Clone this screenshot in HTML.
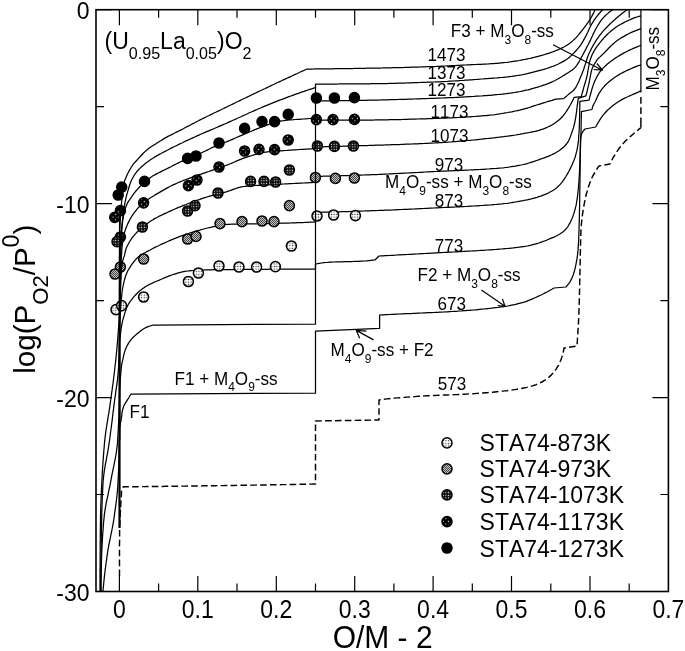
<!DOCTYPE html>
<html lang="en"><head><meta charset="utf-8"><title>log(PO2/P0) vs O/M - 2</title>
<style>html,body{margin:0;padding:0;background:#fff}svg{display:block}text{font-family:"Liberation Sans",Arial,Helvetica,sans-serif;fill:#000;font-kerning:none}.c{fill:none;stroke:#000;stroke-width:1.25;stroke-linejoin:round;stroke-linecap:butt}.ax{fill:none;stroke:#000;stroke-width:1.6}.tk{stroke:#000;stroke-width:1.2;fill:none}.s{font-size:17.1px}.t{font-size:23px}.m{font-size:23px}.b{font-size:30px}</style></head><body>
<svg width="685" height="651" viewBox="0 0 685 651">
<defs>
<pattern id="p873" width="2.6" height="2.6" patternUnits="userSpaceOnUse"><rect width="2.6" height="2.6" fill="#fff"/><circle cx="1.3" cy="1.3" r="0.7" fill="#333"/></pattern>
<pattern id="p973" width="2" height="2" patternUnits="userSpaceOnUse"><rect width="2" height="2" fill="#c4c4c4"/><rect width="1" height="1" fill="#454545"/><rect x="1" y="1" width="1" height="1" fill="#454545"/></pattern>
<pattern id="p1073" width="2.6" height="2.6" patternUnits="userSpaceOnUse"><rect width="2.6" height="2.6" fill="#0c0c0c"/><circle cx="1.3" cy="1.3" r="0.66" fill="#eee"/></pattern>
<pattern id="p1173" width="5.2" height="5.2" patternUnits="userSpaceOnUse"><rect width="5.2" height="5.2" fill="#000"/><circle cx="1.3" cy="1.3" r="0.62" fill="#eee"/><circle cx="3.9" cy="3.9" r="0.62" fill="#eee"/></pattern>
<clipPath id="clip"><rect x="96.0" y="9.7" width="572.4" height="581.8"/></clipPath>
</defs>
<rect width="685" height="651" fill="#fff"/>
<g clip-path="url(#clip)">
<path class="c" style="stroke-width:1.45" stroke-dasharray="6.6 3.25" d="M119.5 576.0 L119.5 574.0 L119.5 571.9 L119.5 569.9 L119.5 567.8 L119.5 565.8 L119.5 563.8 L119.5 561.7 L119.5 559.7 L119.5 557.7 L119.5 555.6 L119.5 553.6 L119.5 551.5 L119.5 549.5 L119.5 547.5 L119.5 545.4 L119.5 543.4 L119.6 541.3 L119.6 539.3 L119.6 537.3 L119.6 535.2 L119.6 533.2 L119.6 531.2 L119.6 529.1 L119.6 527.1 L119.7 525.1 L119.8 523.0 L119.9 521.0 L120.0 518.9 L120.1 516.9 L120.2 514.9 L120.3 512.8 L120.5 510.8 L120.6 508.8 L120.7 506.7 L120.8 504.7 L120.9 502.7 L121.0 500.6 L121.2 498.6 L121.3 496.6 L121.4 494.5 L121.4 492.4 L121.6 490.4 L122.1 488.6 L123.3 486.8 L125.3 486.8 L127.3 486.8 L129.3 486.7 L131.3 486.7 L133.3 486.7 L135.3 486.7 L137.3 486.7 L139.3 486.6 L141.3 486.6 L143.3 486.6 L145.3 486.6 L147.3 486.5 L149.3 486.5 L151.3 486.5 L153.3 486.5 L155.3 486.4 L157.3 486.4 L159.3 486.4 L161.3 486.4 L163.3 486.4 L165.3 486.3 L167.3 486.3 L169.4 486.3 L171.4 486.3 L173.4 486.2 L175.4 486.2 L177.4 486.2 L179.4 486.2 L181.4 486.1 L183.4 486.1 L185.4 486.1 L187.4 486.0 L189.4 486.0 L191.4 486.0 L193.4 486.0 L195.4 485.9 L197.4 485.9 L199.4 485.9 L201.4 485.9 L203.4 485.8 L205.4 485.8 L207.4 485.8 L209.4 485.8 L211.4 485.7 L213.4 485.7 L215.4 485.7 L217.4 485.6 L219.4 485.6 L221.4 485.6 L223.4 485.6 L225.4 485.5 L227.4 485.5 L229.4 485.5 L231.4 485.4 L233.4 485.4 L235.4 485.4 L237.4 485.3 L239.4 485.3 L241.4 485.3 L243.4 485.3 L245.4 485.2 L247.4 485.2 L249.4 485.2 L251.4 485.1 L253.4 485.1 L255.4 485.1 L257.4 485.0 L259.4 485.0 L261.4 485.0 L263.4 484.9 L265.5 484.9 L267.5 484.9 L269.5 484.8 L271.5 484.8 L273.5 484.8 L275.5 484.7 L277.5 484.7 L279.5 484.7 L281.5 484.6 L283.5 484.6 L285.5 484.6 L287.5 484.5 L289.5 484.5 L291.5 484.4 L293.5 484.4 L295.5 484.4 L297.5 484.3 L299.5 484.3 L301.5 484.3 L303.5 484.2 L305.5 484.2 L307.5 484.2 L309.5 484.1 L311.5 484.1 L313.5 484.0 L315.5 484.0 L315.5 421.0 L379.0 420.0 L379.0 400.0 L381.0 399.7 L383.0 399.4 L384.9 399.1 L386.9 398.9 L388.9 398.7 L390.9 398.5 L392.9 398.3 L394.9 398.1 L396.9 397.9 L398.9 397.8 L400.9 397.6 L402.9 397.4 L404.9 397.3 L406.9 397.1 L408.9 397.0 L410.9 396.8 L412.9 396.7 L414.9 396.6 L416.9 396.4 L418.9 396.3 L420.9 396.2 L422.9 396.1 L424.9 395.9 L426.9 395.8 L428.9 395.7 L430.9 395.6 L432.9 395.5 L434.9 395.5 L436.9 395.4 L438.9 395.3 L440.9 395.2 L442.9 395.1 L444.9 395.0 L446.9 395.0 L448.9 394.9 L450.9 394.8 L452.9 394.7 L454.9 394.6 L456.9 394.6 L458.9 394.5 L460.9 394.4 L462.9 394.3 L464.9 394.2 L466.9 394.1 L468.9 393.9 L470.9 393.8 L472.9 393.7 L474.9 393.6 L476.9 393.4 L478.9 393.3 L480.9 393.1 L482.9 393.0 L484.9 392.8 L486.9 392.7 L488.9 392.5 L490.9 392.3 L492.9 392.2 L494.8 392.0 L496.8 391.8 L498.8 391.6 L500.8 391.4 L502.8 391.1 L504.8 390.9 L506.8 390.7 L508.8 390.4 L510.8 390.2 L512.8 389.9 L514.8 389.6 L516.8 389.3 L518.8 388.9 L520.8 388.6 L522.7 388.2 L524.7 387.8 L526.7 387.4 L528.6 386.9 L530.5 386.4 L532.4 385.9 L534.3 385.3 L536.2 384.6 L538.1 383.8 L540.0 382.9 L541.8 382.0 L543.6 381.0 L545.3 379.9 L546.9 378.8 L548.4 377.7 L549.8 376.4 L551.2 375.1 L552.6 373.6 L553.9 372.0 L555.2 370.3 L556.4 368.6 L557.5 366.8 L558.5 365.1 L559.4 363.3 L560.2 361.5 L560.9 359.7 L561.6 357.9 L562.2 356.0 L562.8 354.0 L563.3 352.1 L563.7 350.0 L564.0 348.0 L577.0 346.0 L577.1 344.0 L577.3 342.0 L577.4 340.0 L577.5 338.0 L577.7 335.9 L577.8 333.9 L577.9 331.9 L578.0 329.9 L578.2 327.9 L578.3 325.9 L578.4 323.9 L578.5 321.9 L578.6 319.9 L578.7 317.8 L578.8 315.8 L578.9 313.8 L578.9 311.8 L579.0 309.8 L579.1 307.8 L579.1 305.8 L579.2 303.7 L579.3 301.7 L579.3 299.7 L579.4 297.7 L579.4 295.7 L579.5 293.7 L579.5 291.7 L579.6 289.6 L579.6 287.6 L579.6 285.6 L579.7 283.6 L579.7 281.6 L579.8 279.6 L579.8 277.6 L579.9 275.5 L579.9 273.5 L580.0 271.5 L580.0 269.5 L580.1 267.5 L580.1 265.5 L580.1 263.5 L580.2 261.4 L580.2 259.4 L580.3 257.4 L580.3 255.4 L580.3 253.4 L580.4 251.4 L580.4 249.3 L580.5 247.3 L580.5 245.3 L580.6 243.3 L580.6 241.3 L580.7 239.3 L580.7 237.3 L580.8 235.2 L580.9 233.2 L580.9 231.2 L581.0 229.2 L581.2 227.2 L581.3 225.2 L581.5 223.2 L581.7 221.2 L581.9 219.2 L582.2 217.2 L582.4 215.2 L582.7 213.2 L583.0 211.2 L583.4 209.2 L583.7 207.2 L584.0 205.2 L584.4 203.2 L584.8 201.2 L585.1 199.3 L585.6 197.3 L586.0 195.3 L586.5 193.4 L587.1 191.4 L587.6 189.5 L588.2 187.5 L588.9 185.6 L589.6 183.7 L590.3 181.8 L591.0 180.0 L591.8 178.2 L592.6 176.4 L593.6 174.6 L594.6 172.8 L595.6 171.1 L596.7 169.4 L597.8 167.7 L599.0 166.0 L610.0 164.0 L610.9 162.1 L611.8 160.3 L612.7 158.5 L613.7 156.7 L614.8 155.0 L615.8 153.3 L616.9 151.6 L618.1 149.9 L619.2 148.3 L620.4 146.7 L621.6 145.2 L622.9 143.7 L624.3 142.3 L625.7 140.8 L627.1 139.4 L628.6 138.1 L630.1 136.7 L631.7 135.4 L633.2 134.0 L634.8 132.7 L636.3 131.4 L637.9 130.1 L639.4 128.8 L641.0 127.6"/>
<path class="c" d="M119.5 528.0 L119.5 526.0 L119.5 523.9 L119.5 521.9 L119.5 519.9 L119.5 517.9 L119.5 515.9 L119.5 513.8 L119.5 511.8 L119.5 509.8 L119.5 507.8 L119.5 505.8 L119.5 503.7 L119.5 501.7 L119.5 499.7 L119.5 497.7 L119.5 495.7 L119.5 493.7 L119.5 491.7 L119.5 489.7 L119.5 487.7 L119.5 485.7 L119.5 483.6 L119.5 481.6 L119.5 479.6 L119.5 477.6 L119.5 475.6 L119.5 473.6 L119.5 471.6 L119.5 469.6 L119.5 467.6 L119.5 465.6 L119.5 463.6 L119.5 461.6 L119.5 459.6 L119.5 457.6 L119.5 455.6 L119.5 453.6 L119.5 451.6 L119.5 449.7 L119.5 447.7 L119.5 445.7 L119.5 443.7 L119.5 441.7 L119.5 439.7 L119.5 437.7 L119.5 435.7 L119.5 433.7 L119.5 431.7 L119.5 429.7 L119.6 427.7 L119.9 425.8 L120.3 423.8 L120.7 421.8 L121.1 419.8 L121.4 417.9 L121.7 415.9 L121.9 413.9 L122.1 411.9 L122.6 409.9 L123.1 408.0 L123.8 406.1 L124.6 404.3 L125.7 402.6 L126.8 400.9 L127.9 399.2 L128.9 397.5 L129.9 395.7 L130.9 394.0 L315.5 393.2 L315.5 331.2 L379.6 328.4 L379.6 315.0 L381.6 314.9 L383.6 314.8 L385.6 314.7 L387.6 314.6 L389.6 314.5 L391.6 314.4 L393.6 314.3 L395.6 314.2 L397.6 314.1 L399.6 314.0 L401.6 313.9 L403.6 313.8 L405.6 313.7 L407.6 313.6 L409.6 313.5 L411.6 313.5 L413.6 313.4 L415.6 313.3 L417.6 313.2 L419.6 313.1 L421.7 313.0 L423.7 312.9 L425.7 312.8 L427.7 312.7 L429.7 312.7 L431.7 312.6 L433.7 312.5 L435.7 312.4 L437.7 312.3 L439.7 312.2 L441.7 312.1 L443.7 312.0 L445.7 311.9 L447.7 311.8 L449.7 311.6 L451.7 311.5 L453.7 311.4 L455.7 311.3 L457.7 311.2 L459.7 311.0 L461.7 310.9 L463.7 310.7 L465.7 310.6 L467.7 310.4 L469.7 310.3 L471.7 310.1 L473.7 310.0 L475.7 309.8 L477.7 309.6 L479.7 309.4 L481.7 309.2 L483.7 309.0 L485.7 308.8 L487.7 308.6 L489.7 308.4 L491.6 308.2 L493.6 307.9 L495.6 307.7 L497.6 307.5 L499.6 307.2 L501.6 306.9 L503.6 306.6 L505.5 306.3 L507.5 306.0 L509.5 305.6 L511.5 305.2 L513.4 304.8 L515.4 304.4 L517.4 303.9 L519.3 303.4 L521.2 302.9 L523.1 302.4 L525.0 301.8 L526.9 301.1 L528.8 300.4 L530.7 299.6 L532.5 298.9 L534.4 298.0 L536.2 297.2 L538.0 296.4 L539.9 295.5 L541.7 294.7 L543.5 293.8 L545.2 292.9 L547.0 292.0 L548.8 291.0 L550.5 290.0 L552.3 289.0 L554.0 288.0 L566.0 287.0 L567.3 285.4 L568.6 283.8 L569.8 282.1 L570.8 280.4 L571.7 278.6 L572.5 276.8 L573.2 274.9 L573.8 273.0 L574.4 271.1 L574.9 269.1 L575.4 267.1 L575.8 265.1 L576.2 263.1 L576.5 261.1 L576.9 259.1 L577.2 257.1 L577.5 255.1 L577.7 253.1 L577.9 251.1 L578.1 249.1 L578.2 247.1 L578.3 245.1 L578.5 243.1 L578.6 241.0 L578.7 239.0 L578.8 237.0 L578.8 235.0 L578.9 232.9 L579.0 230.9 L579.0 228.9 L579.1 226.9 L579.1 224.9 L579.2 222.8 L579.3 220.8 L579.3 218.8 L579.4 216.8 L579.4 214.8 L579.4 212.7 L579.5 210.7 L579.5 208.7 L579.6 206.7 L579.6 204.7 L579.6 202.6 L579.7 200.6 L579.7 198.6 L579.7 196.6 L579.8 194.5 L579.8 192.5 L579.8 190.5 L579.9 188.5 L579.9 186.5 L579.9 184.4 L580.0 182.4 L580.0 180.4 L580.0 178.4 L580.0 176.4 L580.1 174.3 L580.1 172.3 L580.1 170.3 L580.1 168.3 L580.1 166.2 L580.2 164.2 L580.2 162.2 L580.2 160.2 L580.2 158.1 L580.2 156.1 L580.2 154.1 L580.3 152.1 L580.3 150.1 L580.3 148.0 L580.4 146.0 L580.4 144.0 L580.4 142.0 L580.5 140.0 L580.7 137.9 L581.0 136.0 L581.6 134.1 L582.5 132.2 L583.7 130.5 L585.0 129.0 L595.7 127.0 L596.7 125.2 L597.7 123.4 L598.7 121.7 L599.8 119.9 L600.9 118.2 L602.1 116.5 L603.3 114.9 L604.7 113.3 L606.1 111.8 L607.5 110.3 L609.0 108.9 L610.6 107.6 L612.1 106.3 L613.7 105.0 L615.4 103.8 L617.1 102.6 L618.8 101.5 L620.6 100.4 L622.3 99.4 L624.1 98.4 L626.0 97.5 L627.8 96.7 L629.7 95.8 L631.6 95.0 L633.5 94.2 L635.4 93.4 L637.2 92.6 L639.1 91.7 L641.0 90.9"/>
<path class="c" d="M119.5 528.0 L119.5 526.0 L119.5 524.0 L119.5 522.0 L119.5 520.0 L119.5 518.0 L119.5 516.0 L119.5 514.0 L119.5 512.0 L119.5 510.0 L119.5 508.0 L119.5 506.0 L119.5 504.0 L119.5 502.0 L119.5 500.0 L119.5 498.0 L119.5 496.0 L119.5 494.0 L119.5 492.0 L119.5 490.0 L119.5 488.0 L119.5 485.9 L119.5 483.9 L119.5 481.9 L119.5 479.9 L119.5 477.9 L119.5 475.9 L119.5 473.9 L119.5 471.9 L119.5 469.9 L119.5 467.9 L119.5 465.9 L119.5 463.9 L119.5 461.9 L119.5 459.9 L119.5 457.9 L119.5 455.9 L119.5 453.9 L119.5 451.9 L119.5 449.9 L119.5 447.9 L119.5 445.9 L119.5 443.9 L119.5 441.9 L119.5 439.9 L119.5 437.9 L119.5 435.9 L119.5 433.9 L119.5 431.9 L119.5 429.9 L119.5 427.9 L119.5 425.9 L119.5 423.9 L119.5 421.9 L119.5 419.9 L119.5 417.9 L119.5 415.9 L119.5 413.9 L119.5 411.9 L119.5 409.9 L119.5 407.9 L119.5 406.0 L119.5 404.0 L119.5 402.0 L119.5 400.0 L119.5 398.0 L119.5 396.0 L119.6 394.0 L119.6 391.9 L119.7 389.9 L119.8 387.9 L119.9 385.9 L120.0 383.9 L120.1 381.9 L120.3 379.9 L120.4 377.9 L120.6 375.9 L120.7 373.9 L120.9 371.9 L121.1 370.0 L121.3 368.0 L121.5 366.0 L121.8 364.0 L122.2 362.1 L122.7 360.1 L123.1 358.2 L123.5 356.2 L124.0 354.2 L124.5 352.3 L125.1 350.4 L125.8 348.5 L126.6 346.7 L127.6 344.9 L128.6 343.1 L129.6 341.5 L130.8 339.9 L132.1 338.4 L133.5 337.0 L135.0 335.6 L136.5 334.2 L138.1 332.9 L139.6 331.7 L141.2 330.4 L142.9 329.2 L144.6 328.2 L146.3 327.4 L148.2 326.6 L150.0 326.0 L152.0 325.4 L154.0 325.0 L315.5 324.0 L315.5 264.0 L317.5 263.7 L319.6 263.3 L321.6 263.0 L323.6 262.7 L325.7 262.5 L327.7 262.4 L329.8 262.2 L331.8 262.1 L333.9 262.0 L335.9 261.9 L338.0 261.9 L340.1 261.8 L342.1 261.8 L344.2 261.7 L346.2 261.6 L348.3 261.6 L350.4 261.5 L352.4 261.5 L354.5 261.4 L356.5 261.3 L358.6 261.3 L360.6 261.2 L362.7 261.1 L364.8 261.0 L366.8 260.8 L368.9 260.6 L370.9 260.4 L373.0 260.2 L375.0 260.0 L379.0 256.0 L381.0 255.9 L383.0 255.8 L385.0 255.7 L387.0 255.6 L389.0 255.5 L391.0 255.4 L393.0 255.3 L395.0 255.2 L397.0 255.0 L399.0 254.9 L401.0 254.8 L403.0 254.7 L405.0 254.6 L407.1 254.5 L409.1 254.4 L411.1 254.3 L413.1 254.2 L415.1 254.1 L417.1 254.0 L419.1 253.8 L421.1 253.7 L423.1 253.6 L425.1 253.5 L427.1 253.4 L429.1 253.3 L431.1 253.2 L433.1 253.1 L435.1 252.9 L437.1 252.8 L439.1 252.7 L441.1 252.6 L443.1 252.5 L445.1 252.4 L447.1 252.3 L449.1 252.2 L451.1 252.1 L453.1 252.0 L455.1 251.9 L457.1 251.8 L459.2 251.7 L461.2 251.6 L463.2 251.4 L465.2 251.3 L467.2 251.2 L469.2 251.1 L471.2 251.0 L473.2 250.9 L475.2 250.8 L477.2 250.7 L479.2 250.5 L481.2 250.4 L483.2 250.3 L485.2 250.2 L487.2 250.0 L489.2 249.9 L491.2 249.8 L493.2 249.6 L495.2 249.5 L497.2 249.3 L499.2 249.1 L501.2 249.0 L503.2 248.8 L505.2 248.6 L507.2 248.5 L509.2 248.3 L511.2 248.1 L513.2 247.9 L515.2 247.6 L517.2 247.4 L519.2 247.2 L521.2 246.9 L523.2 246.6 L525.1 246.3 L527.1 246.0 L529.1 245.6 L531.0 245.2 L533.0 244.7 L534.9 244.2 L536.9 243.6 L538.8 243.0 L540.7 242.3 L542.6 241.7 L544.5 241.0 L546.4 240.3 L548.2 239.5 L550.1 238.7 L552.0 237.9 L553.9 237.1 L555.8 236.2 L557.7 235.2 L559.5 234.2 L561.2 233.1 L562.8 232.0 L564.2 230.8 L565.5 229.5 L566.7 228.1 L567.9 226.5 L568.9 224.7 L570.0 222.9 L570.9 221.0 L571.8 219.1 L572.6 217.2 L573.2 215.4 L573.9 213.5 L574.4 211.6 L575.0 209.6 L575.5 207.7 L576.0 205.7 L576.4 203.7 L576.7 201.7 L577.0 199.7 L577.3 197.8 L577.6 195.8 L577.8 193.8 L578.0 191.8 L578.2 189.8 L578.4 187.8 L578.6 185.8 L578.7 183.8 L578.9 181.8 L579.0 179.8 L579.1 177.8 L579.3 175.8 L579.4 173.8 L579.5 171.8 L579.6 169.8 L579.7 167.8 L579.8 165.8 L579.8 163.7 L579.9 161.7 L580.0 159.7 L580.1 157.7 L580.2 155.7 L580.2 153.7 L580.3 151.7 L580.4 149.7 L580.5 147.7 L580.5 145.7 L580.6 143.7 L580.7 141.7 L580.7 139.7 L580.8 137.7 L580.8 135.7 L580.9 133.7 L581.0 131.7 L581.0 129.7 L581.1 127.6 L581.1 125.6 L581.2 123.6 L581.2 121.6 L581.2 119.6 L581.3 117.6 L581.3 115.6 L581.4 113.6 L581.4 111.6 L592.0 109.5 L592.4 107.5 L593.0 105.6 L594.0 103.8 L595.0 102.0 L595.9 100.2 L596.7 98.3 L597.5 96.4 L598.4 94.6 L599.4 92.8 L600.6 91.1 L601.7 89.4 L603.0 87.8 L604.3 86.3 L605.7 84.8 L607.2 83.4 L608.7 82.0 L610.3 80.7 L611.9 79.4 L613.6 78.2 L615.2 77.1 L616.9 76.0 L618.7 74.9 L620.5 73.8 L622.3 72.9 L624.1 71.9 L625.9 71.0 L627.7 70.1 L629.6 69.3 L631.4 68.5 L633.3 67.7 L635.2 66.9 L637.1 66.2 L639.1 65.5 L641.0 64.8"/>
<path class="c" d="M119.5 528.0 L119.5 526.0 L119.5 524.0 L119.5 522.0 L119.5 520.0 L119.5 517.9 L119.5 515.9 L119.5 513.9 L119.5 511.9 L119.5 509.9 L119.5 507.9 L119.5 505.9 L119.5 503.9 L119.5 501.9 L119.5 499.8 L119.5 497.8 L119.5 495.8 L119.5 493.8 L119.5 491.8 L119.5 489.8 L119.5 487.8 L119.5 485.8 L119.5 483.8 L119.5 481.8 L119.5 479.8 L119.5 477.8 L119.5 475.8 L119.5 473.7 L119.5 471.7 L119.5 469.7 L119.5 467.7 L119.5 465.7 L119.5 463.7 L119.5 461.7 L119.5 459.7 L119.5 457.7 L119.5 455.7 L119.5 453.7 L119.5 451.7 L119.5 449.7 L119.5 447.7 L119.5 445.7 L119.5 443.7 L119.5 441.7 L119.5 439.7 L119.5 437.7 L119.5 435.7 L119.5 433.7 L119.5 431.7 L119.5 429.7 L119.5 427.7 L119.5 425.7 L119.5 423.7 L119.5 421.6 L119.5 419.6 L119.5 417.6 L119.5 415.6 L119.5 413.6 L119.5 411.6 L119.5 409.6 L119.5 407.6 L119.5 405.6 L119.5 403.6 L119.5 401.6 L119.5 399.6 L119.5 397.6 L119.5 395.6 L119.5 393.6 L119.5 391.6 L119.5 389.6 L119.5 387.6 L119.5 385.6 L119.5 383.6 L119.5 381.6 L119.5 379.6 L119.5 377.6 L119.5 375.7 L119.5 373.7 L119.5 371.7 L119.5 369.7 L119.5 367.7 L119.5 365.7 L119.5 363.7 L119.5 361.7 L119.5 359.7 L119.5 357.7 L119.5 355.7 L119.5 353.7 L119.5 351.7 L119.5 349.7 L119.5 347.7 L119.5 345.7 L119.5 343.7 L119.6 341.7 L119.8 339.7 L120.0 337.7 L120.2 335.7 L120.5 333.7 L120.8 331.7 L121.0 329.7 L121.3 327.8 L121.6 325.8 L122.0 323.8 L122.4 321.8 L122.8 319.9 L123.4 318.0 L124.0 316.0 L124.5 314.1 L125.1 312.2 L125.8 310.3 L126.5 308.4 L127.2 306.6 L128.1 304.8 L129.1 303.1 L130.2 301.4 L131.5 299.8 L132.7 298.2 L134.0 296.7 L135.3 295.2 L136.7 293.7 L138.2 292.3 L139.6 290.9 L141.2 289.7 L142.8 288.5 L144.4 287.4 L146.2 286.3 L147.9 285.3 L149.7 284.4 L151.5 283.5 L153.3 282.6 L155.1 281.8 L157.0 281.0 L158.8 280.3 L160.7 279.5 L162.5 278.7 L164.4 277.9 L166.2 277.2 L168.1 276.4 L169.9 275.7 L171.8 275.0 L173.7 274.4 L175.6 273.8 L177.5 273.2 L179.5 272.6 L181.4 272.1 L183.4 271.7 L185.3 271.3 L187.3 271.0 L189.3 270.8 L191.3 270.6 L193.3 270.5 L195.3 270.3 L197.3 270.2 L199.3 270.1 L201.3 270.0 L203.3 270.0 L205.3 269.9 L207.3 269.9 L209.3 269.8 L211.3 269.8 L213.3 269.7 L215.3 269.7 L217.3 269.7 L219.3 269.7 L221.3 269.7 L223.3 269.6 L225.3 269.6 L227.4 269.6 L229.4 269.6 L231.4 269.6 L233.4 269.5 L235.4 269.5 L237.4 269.5 L239.4 269.5 L241.4 269.5 L243.4 269.5 L245.4 269.4 L247.4 269.4 L249.4 269.4 L251.4 269.4 L253.4 269.4 L255.4 269.4 L257.4 269.3 L259.4 269.3 L261.4 269.3 L263.4 269.3 L265.4 269.3 L267.4 269.3 L269.4 269.2 L271.4 269.2 L273.4 269.2 L275.4 269.2 L277.4 269.2 L279.4 269.2 L281.4 269.2 L283.4 269.1 L285.4 269.1 L287.5 269.1 L289.5 269.1 L291.5 269.1 L293.5 269.1 L295.5 269.1 L297.5 269.1 L299.5 269.1 L301.5 269.0 L303.5 269.0 L305.5 269.0 L307.5 269.0 L309.5 269.0 L311.5 269.0 L313.5 269.0 L315.5 269.0 L315.5 212.4 L317.5 212.4 L319.5 212.3 L321.5 212.3 L323.5 212.2 L325.5 212.2 L327.5 212.1 L329.5 212.1 L331.5 212.0 L333.5 211.9 L335.5 211.9 L337.5 211.8 L339.5 211.8 L341.5 211.7 L343.5 211.7 L345.5 211.6 L347.5 211.5 L349.5 211.5 L351.5 211.4 L353.5 211.3 L355.5 211.3 L357.5 211.2 L359.5 211.2 L361.5 211.1 L363.5 211.0 L365.5 210.9 L367.5 210.9 L369.5 210.8 L371.5 210.7 L373.5 210.7 L375.5 210.6 L377.5 210.5 L379.5 210.4 L381.5 210.4 L383.5 210.3 L385.5 210.2 L387.5 210.1 L389.5 210.0 L391.5 210.0 L393.6 209.9 L395.6 209.8 L397.6 209.7 L399.6 209.6 L401.6 209.5 L403.6 209.4 L405.6 209.4 L407.6 209.3 L409.6 209.2 L411.6 209.1 L413.6 209.0 L415.6 208.9 L417.6 208.8 L419.6 208.7 L421.6 208.6 L423.6 208.5 L425.6 208.4 L427.6 208.3 L429.6 208.2 L431.6 208.1 L433.6 208.0 L435.6 207.9 L437.6 207.8 L439.6 207.7 L441.6 207.6 L443.6 207.5 L445.6 207.4 L447.6 207.3 L449.6 207.3 L451.6 207.2 L453.6 207.1 L455.6 207.0 L457.6 206.9 L459.6 206.8 L461.6 206.7 L463.6 206.6 L465.6 206.5 L467.6 206.4 L469.6 206.2 L471.6 206.1 L473.6 206.0 L475.6 205.9 L477.6 205.8 L479.6 205.6 L481.6 205.5 L483.6 205.4 L485.6 205.2 L487.6 205.1 L489.6 205.0 L491.6 204.8 L493.6 204.6 L495.5 204.5 L497.5 204.3 L499.5 204.1 L501.5 204.0 L503.5 203.7 L505.5 203.5 L507.5 203.3 L509.5 203.0 L511.4 202.7 L513.4 202.3 L515.4 202.0 L517.4 201.7 L519.3 201.3 L521.3 200.9 L523.3 200.6 L525.2 200.2 L527.2 199.8 L529.2 199.3 L531.2 198.9 L533.1 198.4 L535.1 197.8 L537.0 197.3 L538.9 196.7 L540.7 196.1 L542.6 195.4 L544.5 194.7 L546.4 193.9 L548.3 193.0 L550.1 192.0 L551.9 191.0 L553.6 190.0 L555.2 188.9 L556.7 187.7 L558.1 186.5 L559.5 185.1 L560.8 183.6 L562.1 182.1 L563.3 180.4 L564.5 178.7 L565.6 177.0 L566.7 175.2 L567.7 173.4 L568.7 171.7 L569.6 169.9 L570.5 168.1 L571.4 166.3 L572.2 164.5 L573.0 162.6 L573.8 160.8 L574.5 158.9 L575.2 157.0 L575.7 155.1 L576.2 153.1 L576.7 151.2 L577.1 149.3 L577.5 147.3 L577.8 145.3 L578.1 143.3 L578.4 141.3 L578.6 139.3 L578.7 137.3 L578.8 135.3 L579.0 133.3 L579.1 131.3 L579.2 129.3 L579.3 127.3 L579.3 125.3 L579.4 123.3 L579.5 121.3 L579.5 119.3 L579.6 117.3 L579.6 115.3 L579.7 113.3 L579.7 111.3 L579.7 109.3 L579.8 107.3 L579.8 105.3 L579.8 103.3 L579.8 101.3 L589.0 100.2 L589.5 98.2 L590.0 96.2 L590.5 94.2 L591.1 92.3 L591.6 90.3 L592.2 88.3 L592.8 86.4 L593.5 84.4 L594.2 82.5 L595.0 80.6 L595.9 78.8 L596.8 76.9 L597.8 75.1 L598.9 73.4 L600.1 71.7 L601.4 70.1 L602.7 68.6 L604.1 67.1 L605.6 65.7 L607.1 64.3 L608.7 63.0 L610.3 61.7 L612.0 60.5 L613.7 59.3 L615.3 58.1 L617.1 57.0 L618.8 55.9 L620.6 54.9 L622.3 53.9 L624.1 52.9 L625.9 52.0 L627.8 51.0 L629.6 50.1 L631.5 49.2 L633.3 48.4 L635.2 47.6 L637.1 46.8 L639.1 46.0 L641.0 45.3"/>
<g fill="url(#p873)" stroke="#000" stroke-width="1.5">
<ellipse cx="116.0" cy="309.6" rx="5.0" ry="5.1"/>
<ellipse cx="121.6" cy="305.6" rx="5.0" ry="5.1"/>
<ellipse cx="143.6" cy="297.0" rx="5.0" ry="5.1"/>
<ellipse cx="188.4" cy="281.5" rx="5.0" ry="5.1"/>
<ellipse cx="198.4" cy="273.0" rx="5.0" ry="5.1"/>
<ellipse cx="219.0" cy="266.0" rx="5.0" ry="5.1"/>
<ellipse cx="239.0" cy="267.0" rx="5.0" ry="5.1"/>
<ellipse cx="256.6" cy="267.0" rx="5.0" ry="5.1"/>
<ellipse cx="275.4" cy="266.6" rx="5.0" ry="5.1"/>
<ellipse cx="291.4" cy="246.0" rx="5.0" ry="5.1"/>
<ellipse cx="317.0" cy="216.0" rx="5.0" ry="5.1"/>
<ellipse cx="333.6" cy="215.0" rx="5.0" ry="5.1"/>
<ellipse cx="355.4" cy="215.6" rx="5.0" ry="5.1"/>
</g>
<path class="c" d="M119.5 528.0 L119.5 526.0 L119.5 524.0 L119.5 522.0 L119.5 520.0 L119.5 518.0 L119.5 516.0 L119.5 514.0 L119.5 511.9 L119.5 509.9 L119.5 507.9 L119.5 505.9 L119.5 503.9 L119.5 501.9 L119.5 499.9 L119.5 497.9 L119.5 495.9 L119.5 493.9 L119.5 491.9 L119.5 489.9 L119.5 487.9 L119.5 485.9 L119.5 483.9 L119.5 481.9 L119.5 479.8 L119.5 477.8 L119.5 475.8 L119.5 473.8 L119.5 471.8 L119.5 469.8 L119.5 467.8 L119.5 465.8 L119.5 463.8 L119.5 461.8 L119.5 459.8 L119.5 457.8 L119.5 455.8 L119.5 453.8 L119.5 451.8 L119.5 449.8 L119.5 447.8 L119.5 445.8 L119.5 443.7 L119.5 441.7 L119.5 439.7 L119.5 437.7 L119.5 435.7 L119.5 433.7 L119.5 431.7 L119.5 429.7 L119.5 427.7 L119.5 425.7 L119.5 423.7 L119.5 421.7 L119.5 419.7 L119.5 417.7 L119.5 415.7 L119.5 413.7 L119.5 411.7 L119.5 409.7 L119.5 407.7 L119.5 405.6 L119.5 403.6 L119.5 401.6 L119.5 399.6 L119.5 397.6 L119.5 395.6 L119.5 393.6 L119.5 391.6 L119.5 389.6 L119.5 387.6 L119.5 385.6 L119.5 383.6 L119.5 381.6 L119.5 379.6 L119.5 377.6 L119.5 375.6 L119.5 373.6 L119.5 371.6 L119.5 369.6 L119.5 367.6 L119.5 365.6 L119.5 363.5 L119.5 361.5 L119.5 359.5 L119.5 357.5 L119.5 355.5 L119.5 353.5 L119.5 351.5 L119.5 349.5 L119.5 347.5 L119.5 345.5 L119.5 343.5 L119.5 341.5 L119.5 339.5 L119.5 337.5 L119.5 335.5 L119.5 333.5 L119.5 331.5 L119.6 329.5 L119.6 327.5 L119.7 325.5 L119.8 323.5 L119.9 321.5 L120.0 319.5 L120.1 317.4 L120.2 315.4 L120.3 313.4 L120.4 311.4 L120.5 309.4 L120.7 307.4 L120.8 305.4 L120.9 303.4 L121.1 301.4 L121.3 299.4 L121.5 297.4 L121.7 295.4 L121.9 293.5 L122.1 291.5 L122.4 289.5 L122.8 287.5 L123.2 285.5 L123.6 283.6 L124.0 281.6 L124.5 279.7 L125.1 277.7 L125.7 275.8 L126.4 274.0 L127.2 272.1 L128.1 270.3 L129.1 268.6 L130.2 266.9 L131.3 265.2 L132.4 263.6 L133.7 262.0 L135.0 260.4 L136.3 258.9 L137.7 257.5 L139.3 256.3 L140.9 255.1 L142.6 254.0 L144.3 253.0 L146.1 252.0 L147.9 251.1 L149.7 250.2 L151.4 249.2 L153.2 248.3 L155.0 247.4 L156.8 246.5 L158.6 245.7 L160.4 244.8 L162.2 243.9 L164.1 243.1 L165.9 242.3 L167.7 241.5 L169.6 240.7 L171.4 239.9 L173.3 239.1 L175.1 238.3 L177.0 237.6 L178.8 236.9 L180.7 236.2 L182.6 235.5 L184.5 234.8 L186.4 234.2 L188.3 233.5 L190.2 232.9 L192.1 232.3 L194.0 231.8 L196.0 231.2 L197.9 230.6 L199.8 230.1 L201.8 229.5 L203.7 229.0 L205.6 228.5 L207.6 228.0 L209.5 227.6 L211.5 227.2 L213.5 226.7 L215.4 226.3 L217.4 225.8 L219.4 225.4 L221.3 225.0 L223.3 224.7 L225.3 224.5 L227.3 224.4 L229.3 224.3 L231.3 224.2 L233.3 224.2 L235.3 224.1 L237.3 224.1 L239.3 224.0 L241.3 224.0 L243.3 224.0 L245.3 223.9 L247.3 223.9 L249.3 223.9 L251.3 223.9 L253.3 223.8 L255.3 223.8 L257.4 223.8 L259.4 223.8 L261.4 223.7 L263.4 223.7 L265.4 223.6 L267.4 223.6 L269.4 223.5 L271.4 223.5 L273.4 223.4 L275.4 223.4 L277.4 223.3 L279.4 223.3 L281.4 223.2 L283.4 223.1 L285.4 223.1 L287.4 223.0 L289.4 223.0 L291.5 222.9 L293.5 222.8 L295.5 222.8 L297.5 222.7 L299.5 222.6 L301.5 222.5 L303.5 222.5 L305.5 222.4 L307.5 222.3 L309.5 222.2 L311.5 222.2 L313.5 222.1 L315.5 222.0 L315.5 176.4 L317.5 176.4 L319.5 176.3 L321.5 176.3 L323.5 176.2 L325.5 176.2 L327.5 176.1 L329.5 176.1 L331.5 176.0 L333.5 176.0 L335.5 175.9 L337.5 175.9 L339.5 175.8 L341.5 175.7 L343.5 175.7 L345.5 175.6 L347.5 175.6 L349.5 175.5 L351.5 175.4 L353.5 175.4 L355.5 175.3 L357.5 175.2 L359.5 175.2 L361.5 175.1 L363.5 175.0 L365.5 174.9 L367.5 174.9 L369.5 174.8 L371.5 174.7 L373.5 174.6 L375.5 174.5 L377.5 174.5 L379.5 174.4 L381.5 174.3 L383.5 174.2 L385.5 174.1 L387.5 174.0 L389.5 173.9 L391.5 173.8 L393.5 173.7 L395.5 173.6 L397.5 173.5 L399.5 173.4 L401.5 173.3 L403.5 173.2 L405.5 173.1 L407.5 173.0 L409.5 172.9 L411.5 172.8 L413.5 172.7 L415.5 172.6 L417.5 172.5 L419.5 172.4 L421.5 172.3 L423.5 172.1 L425.5 172.0 L427.5 171.9 L429.5 171.8 L431.5 171.7 L433.5 171.6 L435.5 171.5 L437.5 171.4 L439.5 171.3 L441.5 171.2 L443.5 171.1 L445.5 171.1 L447.5 171.0 L449.5 170.9 L451.5 170.8 L453.5 170.7 L455.5 170.6 L457.5 170.5 L459.5 170.5 L461.5 170.4 L463.5 170.3 L465.5 170.2 L467.5 170.1 L469.5 170.0 L471.5 169.9 L473.5 169.8 L475.5 169.7 L477.5 169.6 L479.5 169.5 L481.5 169.4 L483.5 169.3 L485.5 169.1 L487.5 169.0 L489.5 168.9 L491.5 168.7 L493.5 168.6 L495.5 168.5 L497.5 168.3 L499.5 168.1 L501.5 168.0 L503.4 167.8 L505.4 167.5 L507.4 167.3 L509.4 167.0 L511.4 166.7 L513.4 166.4 L515.4 166.1 L517.3 165.7 L519.3 165.3 L521.2 165.0 L523.2 164.5 L525.1 164.1 L527.1 163.6 L529.0 163.0 L530.9 162.4 L532.8 161.8 L534.7 161.2 L536.6 160.5 L538.5 159.9 L540.4 159.2 L542.3 158.5 L544.2 157.8 L546.1 157.1 L548.0 156.4 L549.9 155.6 L551.7 154.8 L553.5 153.9 L555.3 153.0 L556.9 152.0 L558.6 151.0 L560.3 149.8 L561.9 148.5 L563.5 147.2 L565.0 145.7 L566.3 144.3 L567.5 142.7 L568.4 141.1 L569.3 139.3 L570.1 137.4 L570.8 135.5 L571.5 133.6 L572.1 131.7 L572.8 129.8 L573.4 127.9 L573.9 126.0 L574.4 124.0 L574.9 122.1 L575.2 120.1 L575.6 118.1 L575.9 116.2 L576.2 114.2 L576.5 112.2 L576.7 110.2 L577.0 108.2 L577.2 106.2 L577.5 104.2 L577.7 102.3 L578.0 100.3 L578.3 98.3 L585.9 95.9 L586.4 94.0 L586.9 92.0 L587.4 90.0 L587.8 88.1 L588.3 86.1 L588.8 84.2 L589.2 82.2 L589.6 80.2 L589.9 78.3 L590.3 76.3 L590.7 74.3 L591.1 72.3 L591.6 70.4 L592.2 68.5 L593.0 66.7 L594.0 64.9 L595.0 63.1 L596.1 61.4 L597.2 59.7 L598.5 58.2 L600.0 56.9 L601.5 55.5 L602.9 54.1 L604.4 52.7 L605.8 51.2 L607.2 49.7 L608.6 48.3 L610.1 46.8 L611.5 45.4 L613.0 44.0 L614.5 42.7 L616.0 41.4 L617.6 40.3 L619.2 39.2 L620.9 38.1 L622.5 37.1 L624.3 36.1 L626.0 35.1 L627.8 34.2 L629.6 33.3 L631.4 32.4 L633.3 31.6 L635.2 30.8 L637.1 30.1 L639.0 29.4 L641.0 28.7"/>
<g fill="url(#p973)" stroke="#000" stroke-width="1.5">
<ellipse cx="120.4" cy="267.0" rx="5.0" ry="5.1"/>
<ellipse cx="115.0" cy="274.0" rx="5.0" ry="5.1"/>
<ellipse cx="143.6" cy="259.0" rx="5.0" ry="5.1"/>
<ellipse cx="187.6" cy="239.0" rx="5.0" ry="5.1"/>
<ellipse cx="196.0" cy="236.4" rx="5.0" ry="5.1"/>
<ellipse cx="220.0" cy="223.6" rx="5.0" ry="5.1"/>
<ellipse cx="242.0" cy="221.6" rx="5.0" ry="5.1"/>
<ellipse cx="262.0" cy="221.0" rx="5.0" ry="5.1"/>
<ellipse cx="274.0" cy="221.6" rx="5.0" ry="5.1"/>
<ellipse cx="289.4" cy="205.6" rx="5.0" ry="5.1"/>
<ellipse cx="315.4" cy="177.5" rx="5.0" ry="5.1"/>
<ellipse cx="335.4" cy="178.4" rx="5.0" ry="5.1"/>
<ellipse cx="354.4" cy="178.0" rx="5.0" ry="5.1"/>
</g>
<path class="c" d="M119.5 528.0 L119.5 526.0 L119.5 524.0 L119.5 522.0 L119.5 520.0 L119.5 518.0 L119.5 516.0 L119.5 514.0 L119.5 512.0 L119.5 510.0 L119.5 508.0 L119.5 506.0 L119.5 503.9 L119.5 501.9 L119.5 499.9 L119.5 497.9 L119.5 495.9 L119.5 493.9 L119.5 491.9 L119.5 489.9 L119.5 487.9 L119.5 485.9 L119.5 483.9 L119.5 481.9 L119.5 479.9 L119.5 477.9 L119.5 475.9 L119.5 473.9 L119.5 471.9 L119.5 469.9 L119.5 467.9 L119.5 465.9 L119.5 463.9 L119.5 461.9 L119.5 459.9 L119.5 457.9 L119.5 455.9 L119.5 453.8 L119.5 451.8 L119.5 449.8 L119.5 447.8 L119.5 445.8 L119.5 443.8 L119.5 441.8 L119.5 439.8 L119.5 437.8 L119.5 435.8 L119.5 433.8 L119.5 431.8 L119.5 429.8 L119.5 427.8 L119.5 425.8 L119.5 423.8 L119.5 421.8 L119.5 419.8 L119.5 417.8 L119.5 415.8 L119.5 413.8 L119.5 411.8 L119.5 409.8 L119.5 407.8 L119.5 405.8 L119.5 403.8 L119.5 401.8 L119.5 399.8 L119.5 397.7 L119.5 395.7 L119.5 393.7 L119.5 391.7 L119.5 389.7 L119.5 387.7 L119.5 385.7 L119.5 383.7 L119.5 381.7 L119.5 379.7 L119.5 377.7 L119.5 375.7 L119.5 373.7 L119.5 371.7 L119.5 369.7 L119.5 367.7 L119.5 365.7 L119.5 363.7 L119.5 361.7 L119.5 359.7 L119.5 357.7 L119.5 355.7 L119.5 353.7 L119.5 351.7 L119.5 349.7 L119.5 347.7 L119.5 345.7 L119.5 343.7 L119.5 341.7 L119.5 339.7 L119.5 337.7 L119.5 335.7 L119.5 333.7 L119.5 331.6 L119.5 329.6 L119.5 327.6 L119.5 325.6 L119.5 323.6 L119.5 321.6 L119.5 319.6 L119.5 317.6 L119.5 315.6 L119.6 313.6 L119.6 311.6 L119.7 309.6 L119.7 307.6 L119.8 305.6 L119.9 303.6 L120.0 301.6 L120.1 299.6 L120.2 297.6 L120.3 295.6 L120.3 293.6 L120.4 291.6 L120.5 289.6 L120.6 287.6 L120.7 285.6 L120.8 283.6 L120.8 281.6 L120.9 279.6 L121.0 277.6 L121.1 275.6 L121.2 273.6 L121.4 271.6 L121.5 269.6 L121.7 267.6 L122.0 265.6 L122.2 263.6 L122.6 261.6 L123.0 259.7 L123.6 257.8 L124.3 255.9 L124.8 253.9 L125.2 252.0 L125.7 250.0 L126.3 248.1 L127.1 246.3 L128.0 244.5 L129.0 242.7 L130.0 241.0 L131.1 239.3 L132.2 237.7 L133.5 236.1 L134.8 234.6 L136.1 233.1 L137.5 231.7 L139.0 230.3 L140.6 229.0 L142.1 227.7 L143.6 226.4 L145.2 225.1 L146.7 223.9 L148.3 222.7 L150.0 221.6 L151.7 220.5 L153.4 219.4 L155.1 218.4 L156.9 217.5 L158.7 216.5 L160.4 215.6 L162.3 214.8 L164.1 213.9 L165.9 213.1 L167.7 212.2 L169.5 211.4 L171.4 210.6 L173.2 209.8 L175.0 209.0 L176.9 208.2 L178.7 207.4 L180.6 206.7 L182.4 205.9 L184.3 205.2 L186.2 204.5 L188.0 203.7 L189.9 203.0 L191.8 202.3 L193.7 201.6 L195.6 200.9 L197.4 200.2 L199.3 199.6 L201.2 198.9 L203.1 198.2 L205.0 197.6 L206.9 197.0 L208.8 196.4 L210.7 195.8 L212.7 195.3 L214.6 194.7 L216.5 194.3 L218.5 193.8 L220.4 193.3 L222.4 192.8 L224.3 192.3 L226.3 191.8 L228.2 191.2 L230.1 190.6 L232.0 189.9 L233.9 189.2 L235.8 188.5 L237.7 187.8 L239.6 187.3 L241.5 186.8 L243.5 186.5 L245.4 186.3 L247.4 186.1 L249.4 186.0 L251.4 185.8 L253.4 185.7 L255.4 185.5 L257.4 185.4 L259.4 185.3 L261.4 185.2 L263.4 185.1 L265.4 185.0 L267.4 184.9 L269.5 184.8 L271.5 184.7 L273.5 184.6 L275.5 184.5 L277.5 184.4 L279.5 184.3 L281.5 184.1 L283.5 184.0 L285.5 183.9 L287.5 183.8 L289.5 183.7 L291.5 183.6 L293.5 183.5 L295.5 183.4 L297.5 183.3 L299.5 183.2 L301.5 183.1 L303.5 183.0 L305.5 182.9 L307.5 182.8 L309.5 182.7 L311.5 182.6 L313.5 182.5 L315.5 182.4 L315.5 147.0 L317.5 146.9 L319.5 146.9 L321.5 146.8 L323.5 146.8 L325.5 146.7 L327.5 146.7 L329.5 146.6 L331.5 146.6 L333.5 146.5 L335.5 146.5 L337.5 146.4 L339.5 146.3 L341.5 146.3 L343.5 146.2 L345.5 146.2 L347.5 146.1 L349.6 146.1 L351.6 146.0 L353.6 145.9 L355.6 145.9 L357.6 145.8 L359.6 145.7 L361.6 145.7 L363.6 145.6 L365.6 145.5 L367.6 145.5 L369.6 145.4 L371.6 145.4 L373.6 145.3 L375.6 145.2 L377.6 145.2 L379.6 145.1 L381.6 145.0 L383.6 145.0 L385.6 144.9 L387.6 144.9 L389.6 144.8 L391.6 144.7 L393.6 144.7 L395.6 144.6 L397.6 144.5 L399.6 144.5 L401.6 144.4 L403.6 144.3 L405.6 144.2 L407.6 144.2 L409.6 144.1 L411.6 144.0 L413.6 143.9 L415.6 143.9 L417.7 143.8 L419.7 143.7 L421.7 143.6 L423.7 143.5 L425.7 143.4 L427.7 143.3 L429.7 143.2 L431.7 143.1 L433.7 143.0 L435.7 142.9 L437.7 142.8 L439.7 142.7 L441.7 142.6 L443.6 142.4 L445.6 142.3 L447.6 142.2 L449.6 142.0 L451.6 141.9 L453.6 141.7 L455.6 141.6 L457.6 141.4 L459.6 141.2 L461.6 141.1 L463.6 140.9 L465.6 140.7 L467.6 140.5 L469.6 140.3 L471.6 140.2 L473.6 140.0 L475.6 139.8 L477.6 139.6 L479.6 139.4 L481.6 139.2 L483.6 138.9 L485.6 138.7 L487.6 138.5 L489.6 138.3 L491.6 138.1 L493.6 137.9 L495.5 137.6 L497.5 137.4 L499.5 137.2 L501.5 136.9 L503.5 136.7 L505.5 136.4 L507.5 136.2 L509.5 135.9 L511.4 135.6 L513.4 135.3 L515.4 135.0 L517.4 134.6 L519.3 134.3 L521.3 133.9 L523.3 133.6 L525.3 133.2 L527.3 132.9 L529.2 132.5 L531.2 132.1 L533.2 131.7 L535.1 131.3 L537.1 130.8 L539.0 130.3 L540.9 129.7 L542.8 129.1 L544.7 128.4 L546.6 127.6 L548.4 126.8 L550.2 125.9 L551.9 125.0 L553.6 123.9 L555.3 122.8 L557.0 121.6 L558.6 120.3 L560.1 119.0 L561.4 117.7 L562.8 116.2 L564.0 114.6 L565.2 113.0 L566.4 111.3 L567.5 109.6 L568.6 107.9 L569.6 106.2 L570.6 104.5 L571.5 102.7 L572.5 100.9 L573.4 99.1 L574.2 97.3 L581.3 96.7 L581.8 94.7 L582.3 92.8 L582.9 90.8 L583.4 88.9 L583.9 86.9 L584.5 85.0 L585.1 83.0 L585.7 81.1 L586.3 79.1 L586.7 77.2 L587.2 75.2 L587.6 73.2 L587.9 71.2 L588.3 69.2 L588.6 67.2 L589.0 65.2 L589.3 63.2 L589.8 61.2 L590.4 59.3 L591.1 57.3 L591.8 55.5 L592.6 53.7 L593.6 51.9 L594.6 50.1 L595.7 48.4 L596.9 46.7 L598.1 45.0 L599.3 43.4 L600.6 41.8 L601.9 40.2 L603.3 38.7 L604.6 37.2 L606.0 35.8 L607.4 34.3 L608.9 32.9 L610.5 31.5 L612.0 30.2 L613.6 28.9 L615.3 27.7 L616.9 26.6 L618.6 25.5 L620.3 24.5 L622.0 23.6 L623.8 22.6 L625.6 21.7 L627.4 20.8 L629.3 20.0 L631.2 19.2 L633.1 18.4 L635.0 17.7 L637.0 17.0 L639.0 16.4 L641.0 15.9"/>
<g fill="url(#p1073)" stroke="#000" stroke-width="1.5">
<ellipse cx="120.4" cy="237.0" rx="5.0" ry="5.1"/>
<ellipse cx="117.0" cy="241.6" rx="5.0" ry="5.1"/>
<ellipse cx="142.4" cy="227.0" rx="5.0" ry="5.1"/>
<ellipse cx="187.6" cy="211.0" rx="5.0" ry="5.1"/>
<ellipse cx="195.0" cy="205.6" rx="5.0" ry="5.1"/>
<ellipse cx="218.0" cy="193.0" rx="5.0" ry="5.1"/>
<ellipse cx="250.6" cy="181.4" rx="5.0" ry="5.1"/>
<ellipse cx="264.0" cy="181.4" rx="5.0" ry="5.1"/>
<ellipse cx="275.6" cy="182.0" rx="5.0" ry="5.1"/>
<ellipse cx="289.4" cy="170.0" rx="5.0" ry="5.1"/>
<ellipse cx="317.4" cy="146.0" rx="5.0" ry="5.1"/>
<ellipse cx="334.4" cy="146.4" rx="5.0" ry="5.1"/>
<ellipse cx="353.4" cy="146.0" rx="5.0" ry="5.1"/>
</g>
<path class="c" d="M102.9 591.4 L103.1 589.4 L103.3 587.4 L103.5 585.4 L103.7 583.4 L103.9 581.4 L104.1 579.4 L104.3 577.4 L104.5 575.4 L104.8 573.5 L105.0 571.5 L105.2 569.5 L105.5 567.5 L105.8 565.5 L106.0 563.5 L106.3 561.5 L106.6 559.6 L106.8 557.6 L107.1 555.6 L107.4 553.6 L107.7 551.6 L108.0 549.7 L108.4 547.7 L108.7 545.7 L109.1 543.7 L109.5 541.8 L109.9 539.8 L110.3 537.8 L110.7 535.9 L111.1 533.9 L111.5 532.0 L111.9 530.0 L112.3 528.0 L112.7 526.1 L113.0 524.1 L113.4 522.1 L113.7 520.1 L114.0 518.2 L114.3 516.2 L114.5 514.2 L114.8 512.2 L115.1 510.2 L115.4 508.2 L115.6 506.3 L115.9 504.3 L116.2 502.3 L116.4 500.3 L116.7 498.3 L116.9 496.3 L117.1 494.3 L117.3 492.3 L117.5 490.3 L117.6 488.3 L117.8 486.3 L117.9 484.3 L118.0 482.3 L118.1 480.3 L118.2 478.3 L118.3 476.3 L118.4 474.3 L118.5 472.3 L118.6 470.3 L118.6 468.3 L118.7 466.3 L118.8 464.3 L118.8 462.3 L118.9 460.3 L119.0 458.3 L119.0 456.3 L119.1 454.3 L119.1 452.3 L119.1 450.3 L119.2 448.3 L119.2 446.3 L119.3 444.3 L119.3 442.3 L119.4 440.3 L119.4 438.3 L119.4 436.3 L119.5 434.3 L119.5 432.3 L119.5 430.3 L119.5 428.3 L119.5 426.3 L119.5 424.3 L119.5 422.3 L119.5 420.3 L119.5 418.3 L119.5 416.3 L119.5 414.2 L119.5 412.2 L119.5 410.2 L119.5 408.2 L119.5 406.2 L119.5 404.2 L119.5 402.2 L119.5 400.2 L119.5 398.2 L119.5 396.2 L119.5 394.2 L119.5 392.2 L119.5 390.2 L119.5 388.2 L119.5 386.2 L119.5 384.2 L119.5 382.2 L119.5 380.2 L119.5 378.2 L119.5 376.2 L119.5 374.2 L119.5 372.2 L119.5 370.2 L119.5 368.2 L119.5 366.2 L119.5 364.2 L119.5 362.2 L119.5 360.2 L119.5 358.2 L119.5 356.2 L119.5 354.1 L119.5 352.1 L119.5 350.1 L119.5 348.1 L119.5 346.1 L119.5 344.1 L119.5 342.1 L119.5 340.1 L119.5 338.1 L119.5 336.1 L119.5 334.1 L119.5 332.1 L119.5 330.1 L119.5 328.1 L119.5 326.1 L119.5 324.1 L119.5 322.1 L119.5 320.1 L119.5 318.1 L119.5 316.1 L119.5 314.1 L119.5 312.1 L119.5 310.1 L119.5 308.1 L119.5 306.1 L119.6 304.1 L119.6 302.1 L119.7 300.1 L119.7 298.1 L119.8 296.1 L119.9 294.1 L120.0 292.1 L120.1 290.1 L120.2 288.1 L120.3 286.1 L120.3 284.1 L120.4 282.1 L120.5 280.1 L120.6 278.1 L120.6 276.1 L120.7 274.0 L120.8 272.0 L120.8 270.0 L120.9 268.0 L121.0 266.0 L121.1 264.0 L121.2 262.0 L121.2 260.0 L121.3 258.0 L121.4 256.0 L121.6 254.0 L121.7 252.0 L121.8 250.0 L122.0 248.0 L122.2 246.0 L122.4 244.1 L122.7 242.1 L123.0 240.1 L123.4 238.1 L123.7 236.1 L124.1 234.2 L124.6 232.2 L125.2 230.3 L125.8 228.4 L126.6 226.6 L127.3 224.7 L128.2 222.9 L129.1 221.1 L130.0 219.3 L131.0 217.6 L132.0 215.9 L133.2 214.2 L134.3 212.6 L135.6 211.0 L136.8 209.4 L138.1 207.9 L139.5 206.5 L140.9 205.0 L142.4 203.7 L143.9 202.4 L145.5 201.2 L147.2 200.0 L148.8 198.9 L150.5 197.8 L152.2 196.7 L153.9 195.7 L155.6 194.6 L157.3 193.6 L159.1 192.6 L160.8 191.6 L162.5 190.6 L164.3 189.6 L166.0 188.6 L167.8 187.6 L169.5 186.7 L171.3 185.8 L173.1 184.9 L175.0 184.1 L176.8 183.3 L178.6 182.5 L180.5 181.7 L182.3 181.0 L184.2 180.2 L186.1 179.5 L187.9 178.8 L189.8 178.1 L191.7 177.4 L193.6 176.7 L195.5 176.0 L197.3 175.4 L199.2 174.7 L201.1 174.1 L203.0 173.4 L204.9 172.8 L206.8 172.1 L208.7 171.5 L210.6 170.8 L212.5 170.1 L214.4 169.5 L216.3 168.8 L218.2 168.2 L220.1 167.5 L222.0 166.8 L223.8 166.2 L225.7 165.5 L227.6 164.8 L229.5 164.0 L231.3 163.3 L233.2 162.5 L235.0 161.7 L236.9 160.9 L238.7 160.1 L240.6 159.3 L242.4 158.6 L244.3 157.9 L246.2 157.3 L248.1 156.7 L250.0 156.1 L251.9 155.5 L253.8 154.9 L255.8 154.4 L257.7 153.8 L259.7 153.4 L261.6 152.9 L263.6 152.5 L265.6 152.2 L267.5 151.9 L269.5 151.7 L271.5 151.5 L273.5 151.3 L275.5 151.2 L277.5 151.0 L279.5 150.9 L281.5 150.8 L283.5 150.6 L285.5 150.5 L287.5 150.4 L289.5 150.2 L291.5 150.1 L293.5 149.9 L295.5 149.8 L297.5 149.7 L299.5 149.5 L301.5 149.4 L303.5 149.3 L305.5 149.2 L307.5 149.1 L309.5 148.9 L311.5 148.8 L313.5 148.7 L315.5 148.6 L315.5 120.0 L317.5 120.0 L319.5 120.0 L321.5 120.0 L323.5 120.0 L325.5 120.0 L327.5 120.0 L329.5 120.0 L331.5 120.0 L333.6 120.0 L335.6 120.0 L337.6 120.0 L339.6 120.0 L341.6 120.0 L343.6 120.0 L345.6 120.0 L347.6 120.0 L349.6 120.0 L351.6 120.0 L353.6 120.0 L355.6 120.0 L357.6 120.0 L359.6 120.0 L361.6 120.0 L363.6 120.0 L365.6 120.0 L367.6 120.0 L369.7 120.0 L371.7 120.0 L373.7 120.0 L375.7 119.9 L377.7 119.9 L379.7 119.9 L381.7 119.9 L383.7 119.8 L385.7 119.8 L387.7 119.8 L389.7 119.7 L391.7 119.7 L393.7 119.7 L395.7 119.6 L397.7 119.6 L399.7 119.5 L401.7 119.5 L403.8 119.4 L405.8 119.4 L407.8 119.3 L409.8 119.2 L411.8 119.2 L413.8 119.1 L415.8 119.1 L417.8 119.0 L419.8 118.9 L421.8 118.9 L423.8 118.8 L425.8 118.8 L427.8 118.7 L429.8 118.6 L431.8 118.6 L433.8 118.5 L435.8 118.4 L437.8 118.4 L439.8 118.3 L441.8 118.2 L443.8 118.1 L445.9 118.1 L447.9 118.0 L449.9 117.9 L451.9 117.8 L453.9 117.7 L455.9 117.6 L457.9 117.5 L459.9 117.4 L461.9 117.3 L463.9 117.2 L465.9 117.0 L467.9 116.9 L469.9 116.8 L471.9 116.6 L473.9 116.5 L475.9 116.4 L477.9 116.2 L479.9 116.1 L481.9 115.9 L483.9 115.7 L485.9 115.6 L487.9 115.4 L489.9 115.2 L491.9 115.0 L493.9 114.8 L495.9 114.5 L497.8 114.2 L499.8 113.9 L501.8 113.5 L503.8 113.2 L505.8 112.8 L507.7 112.5 L509.7 112.1 L511.7 111.8 L513.7 111.4 L515.6 111.0 L517.6 110.6 L519.5 110.2 L521.5 109.7 L523.4 109.2 L525.3 108.7 L527.3 108.1 L529.2 107.5 L531.1 106.9 L533.0 106.2 L534.9 105.6 L536.8 105.0 L538.8 104.4 L540.7 103.8 L542.6 103.2 L544.5 102.6 L546.4 102.0 L548.3 101.4 L550.2 100.8 L552.2 100.3 L554.1 99.7 L556.0 99.1 L563.7 98.6 L565.2 97.2 L566.8 95.9 L568.3 94.6 L569.8 93.3 L571.5 92.0 L573.1 90.7 L574.4 89.3 L575.6 87.6 L576.7 85.8 L577.6 84.0 L578.5 82.2 L579.3 80.3 L580.0 78.4 L580.8 76.5 L581.6 74.7 L582.4 72.8 L583.1 70.9 L583.8 69.0 L584.4 67.0 L585.0 65.1 L585.7 63.1 L586.3 61.2 L586.9 59.2 L587.5 57.3 L588.2 55.4 L589.0 53.6 L589.9 51.7 L590.8 49.9 L591.7 48.0 L592.7 46.2 L593.7 44.4 L594.8 42.7 L595.9 40.9 L597.0 39.2 L598.1 37.6 L599.3 35.9 L600.5 34.3 L601.7 32.8 L603.1 31.2 L604.4 29.7 L605.8 28.2 L607.3 26.7 L608.7 25.3 L610.2 23.8 L611.7 22.4 L613.2 21.0 L614.7 19.7 L616.2 18.3 L617.7 17.0 L619.3 15.7 L620.9 14.4 L622.5 13.1 L624.1 11.9 L625.7 10.7 L627.4 9.5"/>
<g fill="url(#p1173)" stroke="#000" stroke-width="1.5">
<ellipse cx="120.4" cy="210.7" rx="5.0" ry="5.1"/>
<ellipse cx="114.7" cy="217.3" rx="5.0" ry="5.1"/>
<ellipse cx="143.6" cy="202.8" rx="5.0" ry="5.1"/>
<ellipse cx="188.4" cy="185.6" rx="5.0" ry="5.1"/>
<ellipse cx="197.0" cy="180.0" rx="5.0" ry="5.1"/>
<ellipse cx="219.0" cy="167.0" rx="5.0" ry="5.1"/>
<ellipse cx="244.6" cy="151.0" rx="5.0" ry="5.1"/>
<ellipse cx="259.0" cy="149.4" rx="5.0" ry="5.1"/>
<ellipse cx="274.6" cy="149.6" rx="5.0" ry="5.1"/>
<ellipse cx="288.2" cy="140.0" rx="5.0" ry="5.1"/>
<ellipse cx="316.4" cy="119.6" rx="5.0" ry="5.1"/>
<ellipse cx="333.0" cy="119.6" rx="5.0" ry="5.1"/>
<ellipse cx="354.4" cy="119.4" rx="5.0" ry="5.1"/>
</g>
<path class="c" d="M101.0 591.4 L101.0 589.4 L101.0 587.4 L101.0 585.4 L101.0 583.4 L101.1 581.4 L101.1 579.4 L101.1 577.4 L101.2 575.4 L101.2 573.4 L101.2 571.4 L101.3 569.4 L101.3 567.4 L101.4 565.4 L101.4 563.4 L101.5 561.4 L101.5 559.4 L101.6 557.4 L101.6 555.4 L101.7 553.4 L101.8 551.4 L101.9 549.4 L102.0 547.4 L102.0 545.4 L102.2 543.4 L102.3 541.4 L102.4 539.4 L102.5 537.4 L102.6 535.4 L102.8 533.4 L102.9 531.4 L103.1 529.4 L103.2 527.4 L103.4 525.4 L103.5 523.4 L103.7 521.4 L103.9 519.4 L104.1 517.5 L104.3 515.5 L104.5 513.5 L104.8 511.5 L105.1 509.6 L105.4 507.6 L105.8 505.6 L106.1 503.7 L106.5 501.7 L106.9 499.7 L107.3 497.8 L107.8 495.8 L108.2 493.8 L108.6 491.9 L109.0 489.9 L109.4 488.0 L109.9 486.0 L110.2 484.0 L110.6 482.1 L111.0 480.1 L111.3 478.1 L111.7 476.1 L112.1 474.2 L112.5 472.2 L112.9 470.2 L113.3 468.3 L113.7 466.3 L114.1 464.3 L114.5 462.4 L114.9 460.4 L115.3 458.4 L115.6 456.5 L116.0 454.5 L116.3 452.5 L116.6 450.5 L116.8 448.6 L117.1 446.6 L117.3 444.6 L117.5 442.6 L117.6 440.6 L117.7 438.6 L117.9 436.7 L118.0 434.7 L118.1 432.7 L118.2 430.7 L118.3 428.7 L118.4 426.7 L118.5 424.7 L118.6 422.7 L118.7 420.7 L118.8 418.7 L118.9 416.7 L118.9 414.7 L119.0 412.7 L119.1 410.7 L119.1 408.7 L119.2 406.7 L119.2 404.7 L119.3 402.7 L119.3 400.7 L119.3 398.7 L119.3 396.7 L119.4 394.7 L119.4 392.7 L119.4 390.7 L119.4 388.7 L119.5 386.7 L119.5 384.6 L119.5 382.6 L119.5 380.6 L119.5 378.6 L119.5 376.6 L119.5 374.6 L119.5 372.6 L119.5 370.6 L119.5 368.6 L119.5 366.6 L119.5 364.6 L119.5 362.6 L119.5 360.6 L119.5 358.6 L119.5 356.6 L119.5 354.6 L119.5 352.6 L119.5 350.6 L119.5 348.6 L119.5 346.6 L119.5 344.6 L119.5 342.6 L119.5 340.6 L119.5 338.6 L119.5 336.6 L119.5 334.6 L119.5 332.6 L119.5 330.6 L119.5 328.6 L119.5 326.6 L119.5 324.6 L119.5 322.6 L119.5 320.6 L119.5 318.6 L119.5 316.6 L119.5 314.6 L119.5 312.6 L119.5 310.6 L119.5 308.6 L119.5 306.6 L119.5 304.6 L119.5 302.6 L119.5 300.6 L119.5 298.6 L119.5 296.6 L119.5 294.6 L119.5 292.6 L119.5 290.6 L119.5 288.6 L119.5 286.6 L119.6 284.6 L119.6 282.6 L119.7 280.6 L119.7 278.6 L119.8 276.6 L119.9 274.6 L120.0 272.6 L120.1 270.6 L120.1 268.6 L120.2 266.6 L120.3 264.6 L120.4 262.6 L120.5 260.6 L120.5 258.6 L120.6 256.6 L120.7 254.6 L120.8 252.6 L120.8 250.6 L120.9 248.6 L121.0 246.6 L121.1 244.6 L121.1 242.6 L121.2 240.6 L121.3 238.6 L121.4 236.6 L121.5 234.6 L121.6 232.6 L121.8 230.7 L121.9 228.7 L122.1 226.7 L122.3 224.7 L122.5 222.7 L122.7 220.7 L123.0 218.7 L123.3 216.7 L123.7 214.8 L124.1 212.8 L124.6 210.9 L125.1 208.9 L125.8 207.0 L126.5 205.2 L127.3 203.4 L128.3 201.6 L129.4 200.0 L130.6 198.3 L131.7 196.7 L132.8 195.0 L134.0 193.4 L135.2 191.8 L136.6 190.3 L137.9 188.8 L139.3 187.3 L140.6 185.9 L142.0 184.5 L143.5 183.1 L145.0 181.8 L146.5 180.4 L148.1 179.2 L149.7 178.0 L151.3 176.9 L153.0 175.8 L154.8 174.9 L156.5 173.9 L158.3 173.0 L160.1 172.1 L161.9 171.1 L163.7 170.2 L165.5 169.4 L167.3 168.5 L169.1 167.6 L170.9 166.7 L172.6 165.8 L174.4 164.9 L176.2 164.0 L178.0 163.1 L179.8 162.2 L181.6 161.4 L183.4 160.6 L185.3 159.8 L187.1 159.0 L189.0 158.2 L190.8 157.5 L192.7 156.7 L194.5 156.0 L196.4 155.2 L198.2 154.4 L200.0 153.6 L201.8 152.7 L203.6 151.8 L205.4 151.0 L207.2 150.1 L209.0 149.2 L210.8 148.3 L212.6 147.4 L214.4 146.6 L216.3 145.7 L218.1 145.0 L219.9 144.2 L221.8 143.5 L223.7 142.8 L225.6 142.2 L227.4 141.4 L229.3 140.7 L231.1 139.9 L233.0 139.1 L234.8 138.3 L236.6 137.5 L238.5 136.7 L240.3 135.9 L242.1 135.1 L244.0 134.3 L245.8 133.5 L247.7 132.7 L249.5 132.0 L251.3 131.2 L253.2 130.4 L255.0 129.6 L256.9 128.8 L258.7 128.1 L260.6 127.3 L262.5 126.6 L264.3 125.9 L266.2 125.3 L268.1 124.6 L270.0 124.0 L271.9 123.3 L273.8 122.7 L275.8 122.1 L277.7 121.6 L279.7 121.2 L281.6 120.9 L283.6 120.7 L285.5 120.4 L287.5 120.2 L289.5 120.0 L291.5 119.8 L293.5 119.7 L295.5 119.5 L297.5 119.4 L299.5 119.3 L301.5 119.1 L303.5 119.0 L305.5 118.8 L307.5 118.7 L309.5 118.5 L311.5 118.4 L313.5 118.2 L315.5 118.0 L315.5 101.0 L317.5 101.0 L319.5 101.0 L321.5 100.9 L323.5 100.9 L325.6 100.9 L327.6 100.9 L329.6 100.9 L331.6 100.8 L333.6 100.8 L335.6 100.8 L337.6 100.7 L339.6 100.7 L341.6 100.7 L343.6 100.7 L345.7 100.6 L347.7 100.6 L349.7 100.6 L351.7 100.5 L353.7 100.5 L355.7 100.5 L357.7 100.4 L359.7 100.4 L361.7 100.3 L363.7 100.3 L365.8 100.3 L367.8 100.2 L369.8 100.2 L371.8 100.1 L373.8 100.1 L375.8 100.1 L377.8 100.0 L379.8 100.0 L381.8 99.9 L383.8 99.9 L385.9 99.8 L387.9 99.8 L389.9 99.7 L391.9 99.7 L393.9 99.6 L395.9 99.6 L397.9 99.5 L399.9 99.4 L401.9 99.4 L403.9 99.3 L406.0 99.3 L408.0 99.2 L410.0 99.1 L412.0 99.1 L414.0 99.0 L416.0 98.9 L418.0 98.9 L420.0 98.8 L422.0 98.7 L424.0 98.7 L426.1 98.6 L428.1 98.5 L430.1 98.4 L432.1 98.4 L434.1 98.3 L436.1 98.2 L438.1 98.1 L440.1 98.1 L442.1 98.0 L444.1 97.9 L446.1 97.8 L448.2 97.7 L450.2 97.6 L452.2 97.5 L454.2 97.5 L456.2 97.4 L458.2 97.3 L460.2 97.2 L462.2 97.1 L464.2 96.9 L466.2 96.8 L468.2 96.7 L470.2 96.6 L472.3 96.5 L474.3 96.4 L476.3 96.2 L478.3 96.1 L480.3 96.0 L482.3 95.9 L484.3 95.7 L486.3 95.6 L488.3 95.4 L490.3 95.3 L492.3 95.1 L494.3 94.9 L496.3 94.7 L498.3 94.5 L500.3 94.3 L502.3 94.1 L504.3 93.8 L506.3 93.6 L508.3 93.3 L510.3 93.1 L512.3 92.8 L514.3 92.5 L516.3 92.2 L518.2 91.8 L520.2 91.5 L522.2 91.1 L524.1 90.7 L526.1 90.2 L528.1 89.8 L530.0 89.3 L532.0 88.7 L533.9 88.2 L535.8 87.6 L537.8 87.1 L539.7 86.5 L541.6 85.9 L543.5 85.2 L545.4 84.6 L547.3 83.9 L549.2 83.1 L551.0 82.4 L552.8 81.5 L554.6 80.7 L556.4 79.7 L558.2 78.8 L559.9 77.7 L561.7 76.7 L563.4 75.6 L565.1 74.6 L566.8 73.5 L568.5 72.4 L570.2 71.3 L571.9 70.2 L573.5 69.0 L574.9 67.6 L576.2 66.1 L577.4 64.4 L578.5 62.7 L579.4 61.0 L580.4 59.2 L581.3 57.4 L582.3 55.7 L583.3 53.9 L584.2 52.1 L585.2 50.3 L586.1 48.6 L587.0 46.8 L588.0 45.0 L588.9 43.2 L589.8 41.4 L590.7 39.6 L591.5 37.8 L592.4 35.9 L593.2 34.1 L594.1 32.3 L595.0 30.5 L595.9 28.7 L596.9 27.0 L597.9 25.3 L599.0 23.6 L600.1 21.9 L601.3 20.2 L602.6 18.6 L603.9 17.1 L605.2 15.7 L606.7 14.4 L608.2 13.1 L609.8 11.8 L611.5 10.6 L613.2 9.5"/>
<g fill="#000" stroke="#000" stroke-width="1.5">
<ellipse cx="121.7" cy="187.1" rx="5.0" ry="5.1"/>
<ellipse cx="118.2" cy="195.0" rx="5.0" ry="5.1"/>
<ellipse cx="144.5" cy="181.4" rx="5.0" ry="5.1"/>
<ellipse cx="187.6" cy="158.4" rx="5.0" ry="5.1"/>
<ellipse cx="196.0" cy="156.0" rx="5.0" ry="5.1"/>
<ellipse cx="219.0" cy="143.0" rx="5.0" ry="5.1"/>
<ellipse cx="244.6" cy="128.4" rx="5.0" ry="5.1"/>
<ellipse cx="262.0" cy="121.6" rx="5.0" ry="5.1"/>
<ellipse cx="274.6" cy="121.6" rx="5.0" ry="5.1"/>
<ellipse cx="288.2" cy="114.4" rx="5.0" ry="5.1"/>
<ellipse cx="316.4" cy="98.0" rx="5.0" ry="5.1"/>
<ellipse cx="334.4" cy="98.0" rx="5.0" ry="5.1"/>
<ellipse cx="354.4" cy="97.6" rx="5.0" ry="5.1"/>
</g>
<path class="c" d="M100.8 591.4 L100.8 589.4 L100.8 587.4 L100.8 585.4 L100.8 583.4 L100.8 581.4 L100.8 579.4 L100.8 577.4 L100.9 575.4 L100.9 573.4 L100.9 571.4 L100.9 569.4 L100.9 567.4 L100.9 565.4 L101.0 563.4 L101.0 561.4 L101.0 559.4 L101.0 557.4 L101.1 555.4 L101.1 553.4 L101.1 551.4 L101.1 549.4 L101.2 547.4 L101.2 545.4 L101.2 543.4 L101.3 541.4 L101.3 539.4 L101.3 537.4 L101.4 535.4 L101.4 533.4 L101.4 531.4 L101.5 529.4 L101.5 527.4 L101.6 525.4 L101.6 523.4 L101.6 521.4 L101.7 519.4 L101.7 517.4 L101.8 515.4 L101.8 513.4 L101.8 511.4 L101.9 509.4 L102.0 507.4 L102.0 505.4 L102.1 503.4 L102.1 501.4 L102.2 499.4 L102.3 497.4 L102.4 495.4 L102.5 493.4 L102.6 491.4 L102.7 489.4 L102.8 487.4 L102.9 485.4 L103.0 483.4 L103.1 481.4 L103.3 479.4 L103.5 477.5 L103.7 475.5 L104.0 473.5 L104.2 471.5 L104.5 469.5 L104.9 467.6 L105.2 465.6 L105.5 463.6 L105.9 461.6 L106.3 459.7 L106.6 457.7 L107.0 455.7 L107.4 453.8 L107.7 451.8 L108.1 449.8 L108.4 447.8 L108.7 445.9 L109.0 443.9 L109.3 441.9 L109.6 439.9 L109.9 437.9 L110.1 435.9 L110.4 434.0 L110.6 432.0 L110.9 430.0 L111.2 428.0 L111.4 426.0 L111.7 424.0 L111.9 422.1 L112.2 420.1 L112.4 418.1 L112.6 416.1 L112.9 414.1 L113.1 412.1 L113.4 410.1 L113.6 408.2 L113.9 406.2 L114.1 404.2 L114.4 402.2 L114.6 400.2 L114.9 398.2 L115.2 396.3 L115.5 394.3 L115.7 392.3 L116.0 390.3 L116.3 388.3 L116.6 386.3 L116.9 384.3 L117.1 382.4 L117.4 380.4 L117.6 378.4 L117.8 376.4 L118.0 374.4 L118.2 372.4 L118.3 370.4 L118.5 368.4 L118.6 366.4 L118.7 364.5 L118.7 362.5 L118.8 360.5 L118.9 358.5 L119.0 356.5 L119.0 354.5 L119.1 352.5 L119.2 350.5 L119.2 348.5 L119.3 346.5 L119.3 344.5 L119.4 342.5 L119.4 340.5 L119.4 338.5 L119.5 336.5 L119.5 334.5 L119.5 332.5 L119.5 330.5 L119.5 328.5 L119.5 326.5 L119.5 324.5 L119.5 322.5 L119.5 320.5 L119.5 318.5 L119.5 316.5 L119.5 314.5 L119.5 312.5 L119.5 310.5 L119.5 308.5 L119.5 306.4 L119.5 304.4 L119.5 302.4 L119.5 300.4 L119.5 298.4 L119.5 296.4 L119.5 294.4 L119.5 292.4 L119.5 290.4 L119.5 288.4 L119.5 286.4 L119.5 284.4 L119.5 282.4 L119.5 280.4 L119.5 278.4 L119.5 276.4 L119.5 274.4 L119.5 272.4 L119.5 270.4 L119.5 268.4 L119.5 266.4 L119.5 264.4 L119.5 262.4 L119.5 260.4 L119.5 258.4 L119.5 256.5 L119.6 254.5 L119.7 252.5 L119.8 250.5 L119.9 248.5 L120.1 246.5 L120.2 244.5 L120.4 242.5 L120.6 240.5 L120.7 238.5 L120.9 236.5 L121.0 234.5 L121.2 232.5 L121.4 230.5 L121.6 228.5 L121.8 226.5 L122.0 224.5 L122.2 222.5 L122.4 220.6 L122.7 218.6 L122.9 216.6 L123.2 214.6 L123.4 212.6 L123.7 210.6 L124.0 208.7 L124.3 206.7 L124.6 204.7 L125.0 202.7 L125.3 200.8 L125.8 198.8 L126.2 196.9 L126.7 194.9 L127.3 193.0 L127.8 191.1 L128.4 189.2 L129.0 187.2 L129.6 185.3 L130.2 183.4 L130.9 181.6 L131.7 179.8 L132.7 178.0 L133.7 176.2 L134.8 174.5 L135.9 172.9 L137.1 171.3 L138.5 169.8 L139.9 168.4 L141.3 167.0 L142.8 165.7 L144.3 164.4 L145.9 163.1 L147.5 161.9 L149.1 160.7 L150.8 159.6 L152.5 158.5 L154.1 157.4 L155.8 156.4 L157.6 155.4 L159.3 154.4 L161.1 153.5 L162.9 152.5 L164.6 151.6 L166.4 150.7 L168.2 149.8 L170.0 148.8 L171.7 147.9 L173.5 147.0 L175.3 146.2 L177.1 145.3 L178.9 144.4 L180.7 143.5 L182.5 142.7 L184.3 141.8 L186.1 140.9 L187.9 140.1 L189.8 139.2 L191.6 138.4 L193.4 137.6 L195.2 136.8 L197.0 135.9 L198.9 135.1 L200.7 134.3 L202.5 133.5 L204.4 132.7 L206.2 131.9 L208.0 131.1 L209.9 130.3 L211.7 129.5 L213.6 128.8 L215.4 128.0 L217.2 127.2 L219.1 126.4 L220.9 125.6 L222.8 124.8 L224.6 124.0 L226.4 123.3 L228.3 122.4 L230.1 121.6 L231.9 120.8 L233.7 120.0 L235.6 119.2 L237.4 118.3 L239.2 117.5 L241.0 116.7 L242.8 115.8 L244.7 115.0 L246.5 114.2 L248.3 113.3 L250.1 112.5 L251.9 111.7 L253.8 110.9 L255.6 110.1 L257.4 109.3 L259.3 108.5 L261.1 107.7 L262.9 106.9 L264.8 106.1 L266.6 105.4 L268.5 104.6 L270.3 103.9 L272.2 103.1 L274.0 102.4 L275.9 101.6 L277.8 100.9 L279.6 100.2 L281.5 99.5 L283.4 98.8 L285.3 98.1 L287.1 97.4 L289.0 96.7 L290.9 96.0 L292.8 95.3 L294.6 94.6 L296.5 93.9 L298.4 93.3 L300.3 92.6 L302.2 91.9 L304.1 91.3 L306.0 90.6 L307.9 90.0 L309.8 89.4 L311.7 88.8 L313.6 88.2 L315.5 87.6 L315.5 84.0 L317.5 84.0 L319.5 84.0 L321.5 84.0 L323.5 84.0 L325.5 84.0 L327.5 84.0 L329.5 84.0 L331.5 84.0 L333.5 84.0 L335.5 84.0 L337.5 84.0 L339.5 83.9 L341.5 83.9 L343.5 83.9 L345.5 83.9 L347.5 83.9 L349.5 83.9 L351.5 83.9 L353.6 83.9 L355.6 83.9 L357.6 83.8 L359.6 83.8 L361.6 83.8 L363.6 83.8 L365.6 83.8 L367.6 83.8 L369.6 83.8 L371.6 83.7 L373.6 83.7 L375.6 83.7 L377.6 83.6 L379.6 83.6 L381.6 83.6 L383.6 83.5 L385.6 83.5 L387.6 83.5 L389.6 83.4 L391.6 83.4 L393.6 83.3 L395.6 83.3 L397.6 83.2 L399.6 83.2 L401.6 83.1 L403.6 83.0 L405.6 83.0 L407.6 82.9 L409.6 82.9 L411.6 82.8 L413.6 82.7 L415.6 82.7 L417.6 82.6 L419.6 82.5 L421.6 82.4 L423.6 82.4 L425.6 82.3 L427.6 82.2 L429.6 82.2 L431.6 82.1 L433.6 82.0 L435.6 81.9 L437.6 81.9 L439.6 81.8 L441.6 81.7 L443.6 81.6 L445.6 81.5 L447.6 81.4 L449.6 81.2 L451.6 81.1 L453.6 81.0 L455.6 80.9 L457.6 80.8 L459.6 80.6 L461.6 80.5 L463.6 80.4 L465.6 80.2 L467.6 80.1 L469.6 79.9 L471.6 79.8 L473.6 79.6 L475.6 79.5 L477.6 79.3 L479.6 79.2 L481.6 79.0 L483.6 78.9 L485.6 78.7 L487.6 78.6 L489.6 78.4 L491.6 78.3 L493.6 78.1 L495.6 78.0 L497.6 77.8 L499.6 77.6 L501.6 77.5 L503.6 77.3 L505.6 77.1 L507.5 76.9 L509.5 76.6 L511.5 76.4 L513.5 76.1 L515.5 75.8 L517.5 75.5 L519.5 75.2 L521.4 74.9 L523.4 74.5 L525.3 74.1 L527.3 73.7 L529.3 73.2 L531.2 72.7 L533.2 72.2 L535.1 71.7 L537.0 71.2 L539.0 70.7 L540.9 70.2 L542.9 69.7 L544.8 69.1 L546.7 68.5 L548.6 67.9 L550.5 67.2 L552.3 66.5 L554.2 65.8 L556.1 65.0 L557.9 64.2 L559.7 63.3 L561.5 62.4 L563.3 61.4 L565.0 60.4 L566.7 59.3 L568.2 58.2 L569.8 56.9 L571.3 55.5 L572.7 54.1 L574.1 52.7 L575.5 51.2 L576.9 49.7 L578.2 48.2 L579.5 46.7 L580.6 45.1 L581.7 43.4 L582.8 41.7 L583.7 39.9 L584.7 38.1 L585.7 36.4 L586.6 34.6 L587.5 32.8 L588.3 31.0 L589.1 29.1 L590.0 27.3 L590.9 25.5 L591.8 23.8 L592.9 22.1 L593.9 20.4 L595.1 18.8 L596.3 17.2 L597.5 15.6 L598.7 14.0 L600.1 12.5 L601.4 11.0 L602.8 9.5"/>
<path class="c" d="M100.0 591.4 L100.0 589.4 L100.0 587.4 L100.0 585.4 L100.0 583.4 L100.0 581.4 L100.0 579.4 L100.0 577.4 L100.0 575.3 L100.0 573.3 L100.0 571.3 L100.0 569.3 L100.1 567.3 L100.1 565.3 L100.1 563.3 L100.1 561.3 L100.1 559.3 L100.1 557.3 L100.1 555.3 L100.1 553.3 L100.2 551.3 L100.2 549.3 L100.2 547.3 L100.2 545.3 L100.2 543.2 L100.2 541.2 L100.3 539.2 L100.3 537.2 L100.3 535.2 L100.3 533.2 L100.3 531.2 L100.4 529.2 L100.4 527.2 L100.4 525.2 L100.4 523.2 L100.5 521.2 L100.5 519.2 L100.5 517.2 L100.5 515.2 L100.6 513.2 L100.6 511.2 L100.7 509.1 L100.8 507.1 L100.8 505.1 L100.9 503.1 L101.0 501.1 L101.1 499.1 L101.1 497.1 L101.2 495.1 L101.3 493.1 L101.4 491.1 L101.5 489.1 L101.6 487.1 L101.7 485.1 L101.8 483.1 L101.9 481.1 L102.0 479.1 L102.1 477.1 L102.2 475.1 L102.3 473.1 L102.4 471.1 L102.5 469.1 L102.7 467.0 L102.8 465.0 L102.9 463.0 L103.1 461.0 L103.2 459.0 L103.4 457.0 L103.5 455.0 L103.7 453.0 L103.8 451.0 L104.0 449.0 L104.2 447.0 L104.3 445.0 L104.5 443.1 L104.7 441.1 L104.9 439.1 L105.1 437.1 L105.4 435.1 L105.6 433.1 L105.9 431.1 L106.2 429.1 L106.5 427.1 L106.8 425.2 L107.1 423.2 L107.5 421.2 L107.8 419.2 L108.1 417.2 L108.4 415.3 L108.8 413.3 L109.1 411.3 L109.4 409.3 L109.7 407.3 L110.0 405.3 L110.2 403.3 L110.5 401.4 L110.8 399.4 L111.1 397.4 L111.3 395.4 L111.6 393.4 L111.9 391.4 L112.2 389.4 L112.4 387.4 L112.7 385.5 L113.0 383.5 L113.2 381.5 L113.5 379.5 L113.7 377.5 L114.0 375.5 L114.2 373.5 L114.5 371.5 L114.7 369.5 L114.9 367.5 L115.1 365.5 L115.4 363.5 L115.6 361.6 L115.8 359.6 L116.0 357.6 L116.2 355.6 L116.4 353.6 L116.6 351.6 L116.8 349.6 L117.0 347.6 L117.1 345.6 L117.3 343.6 L117.5 341.6 L117.7 339.6 L117.8 337.6 L118.0 335.6 L118.1 333.6 L118.3 331.6 L118.4 329.6 L118.6 327.6 L118.7 325.6 L118.9 323.6 L119.0 321.6 L119.2 319.6 L119.3 317.6 L119.4 315.6 L119.4 313.6 L119.5 311.5 L119.5 309.5 L119.5 307.5 L119.5 305.5 L119.5 303.5 L119.5 301.5 L119.5 299.5 L119.5 297.5 L119.5 295.5 L119.5 293.5 L119.5 291.5 L119.5 289.5 L119.5 287.5 L119.5 285.5 L119.5 283.5 L119.5 281.5 L119.5 279.4 L119.5 277.4 L119.5 275.4 L119.5 273.4 L119.5 271.4 L119.5 269.4 L119.5 267.4 L119.5 265.4 L119.5 263.4 L119.5 261.4 L119.5 259.4 L119.5 257.4 L119.5 255.4 L119.5 253.4 L119.5 251.4 L119.5 249.3 L119.5 247.3 L119.5 245.3 L119.5 243.3 L119.5 241.3 L119.5 239.3 L119.5 237.3 L119.5 235.3 L119.5 233.3 L119.6 231.3 L119.6 229.3 L119.7 227.3 L119.8 225.3 L120.0 223.3 L120.1 221.3 L120.3 219.3 L120.4 217.3 L120.6 215.3 L120.8 213.3 L120.9 211.3 L121.1 209.3 L121.2 207.3 L121.4 205.3 L121.5 203.3 L121.7 201.3 L121.9 199.3 L122.1 197.3 L122.3 195.3 L122.5 193.3 L122.7 191.3 L122.9 189.3 L123.2 187.3 L123.5 185.3 L123.9 183.4 L124.4 181.4 L125.1 179.6 L125.9 177.7 L126.7 175.8 L127.5 174.0 L128.4 172.2 L129.4 170.4 L130.4 168.7 L131.4 167.0 L132.5 165.3 L133.7 163.7 L135.0 162.2 L136.4 160.7 L137.8 159.2 L139.1 157.7 L140.5 156.3 L141.9 154.8 L143.3 153.3 L144.7 151.9 L146.2 150.5 L147.7 149.3 L149.2 148.1 L150.9 146.9 L152.6 145.8 L154.3 144.7 L156.0 143.7 L157.7 142.6 L159.4 141.5 L161.1 140.5 L162.8 139.4 L164.5 138.4 L166.3 137.4 L168.0 136.4 L169.8 135.5 L171.6 134.6 L173.4 133.7 L175.2 132.8 L177.0 131.9 L178.8 131.0 L180.6 130.1 L182.4 129.2 L184.1 128.3 L185.9 127.3 L187.7 126.4 L189.5 125.5 L191.2 124.5 L193.0 123.6 L194.8 122.7 L196.6 121.7 L198.4 120.8 L200.1 119.9 L201.9 119.0 L203.7 118.1 L205.5 117.2 L207.3 116.3 L209.1 115.5 L210.9 114.6 L212.7 113.7 L214.5 112.8 L216.3 112.0 L218.2 111.1 L220.0 110.2 L221.8 109.3 L223.6 108.5 L225.4 107.6 L227.2 106.7 L229.0 105.8 L230.8 105.0 L232.6 104.1 L234.4 103.2 L236.2 102.3 L238.0 101.5 L239.8 100.6 L241.6 99.7 L243.4 98.8 L245.2 98.0 L247.1 97.1 L248.9 96.2 L250.7 95.4 L252.5 94.5 L254.3 93.6 L256.1 92.8 L257.9 91.9 L259.7 91.0 L261.5 90.2 L263.4 89.3 L265.2 88.5 L267.0 87.6 L268.8 86.8 L270.6 85.9 L272.4 85.0 L274.2 84.2 L276.1 83.3 L277.9 82.5 L279.7 81.6 L281.5 80.8 L283.3 79.9 L285.1 79.1 L287.0 78.2 L288.8 77.4 L290.6 76.6 L292.4 75.7 L294.2 74.9 L296.1 74.0 L297.9 73.2 L299.7 72.3 L301.5 71.5 L303.4 70.7 L305.2 69.8 L307.0 69.0 L309.0 69.0 L311.0 69.0 L313.0 69.0 L315.0 68.9 L317.0 68.9 L319.0 68.9 L321.0 68.9 L323.0 68.9 L325.0 68.8 L327.1 68.8 L329.1 68.8 L331.1 68.8 L333.1 68.8 L335.1 68.7 L337.1 68.7 L339.1 68.7 L341.1 68.6 L343.1 68.6 L345.1 68.6 L347.1 68.6 L349.1 68.5 L351.1 68.5 L353.1 68.5 L355.1 68.4 L357.1 68.4 L359.1 68.4 L361.1 68.3 L363.1 68.3 L365.2 68.3 L367.2 68.2 L369.2 68.2 L371.2 68.2 L373.2 68.1 L375.2 68.1 L377.2 68.1 L379.2 68.0 L381.2 68.0 L383.2 67.9 L385.2 67.9 L387.2 67.8 L389.2 67.8 L391.2 67.8 L393.2 67.7 L395.2 67.7 L397.2 67.6 L399.2 67.6 L401.2 67.5 L403.2 67.5 L405.3 67.4 L407.3 67.3 L409.3 67.3 L411.3 67.2 L413.3 67.2 L415.3 67.1 L417.3 67.0 L419.3 67.0 L421.3 66.9 L423.3 66.9 L425.3 66.8 L427.3 66.7 L429.3 66.7 L431.3 66.6 L433.3 66.5 L435.3 66.5 L437.3 66.4 L439.3 66.3 L441.3 66.2 L443.3 66.1 L445.3 66.0 L447.3 65.9 L449.3 65.8 L451.3 65.7 L453.3 65.6 L455.3 65.5 L457.4 65.4 L459.4 65.3 L461.4 65.2 L463.4 65.1 L465.4 65.0 L467.4 64.9 L469.4 64.8 L471.4 64.7 L473.4 64.6 L475.4 64.5 L477.4 64.4 L479.4 64.4 L481.4 64.3 L483.4 64.2 L485.4 64.1 L487.4 64.0 L489.4 63.8 L491.4 63.7 L493.4 63.6 L495.4 63.4 L497.4 63.3 L499.4 63.1 L501.4 62.9 L503.4 62.7 L505.4 62.5 L507.4 62.3 L509.4 62.0 L511.4 61.7 L513.3 61.4 L515.3 61.1 L517.3 60.8 L519.3 60.5 L521.3 60.1 L523.2 59.7 L525.2 59.4 L527.2 58.9 L529.1 58.5 L531.1 58.1 L533.0 57.6 L535.0 57.2 L536.9 56.7 L538.9 56.2 L540.8 55.6 L542.7 55.1 L544.7 54.5 L546.6 53.9 L548.5 53.3 L550.4 52.7 L552.3 52.0 L554.1 51.3 L556.0 50.5 L557.9 49.8 L559.8 49.0 L561.6 48.1 L563.4 47.2 L565.1 46.3 L566.8 45.3 L568.5 44.2 L570.1 43.0 L571.7 41.7 L573.2 40.4 L574.7 39.0 L576.1 37.6 L577.4 36.1 L578.7 34.6 L580.0 33.0 L581.3 31.4 L582.5 29.9 L583.7 28.3 L584.9 26.7 L586.1 25.1 L587.3 23.4 L588.5 21.8 L589.5 20.1 L590.6 18.4 L591.6 16.7 L592.5 14.9 L593.5 13.1 L594.4 11.3 L595.2 9.5"/>
<path class="c" d="M315.5 87 V101.5 M315.5 117.5 V120.5"/>
<path class="c" d="M640.9 9.5 V92.6"/>
<path class="c" style="stroke-width:1.45" d="M640.9 96.9 V103.8 M640.9 107.2 V114.1 M640.9 117.6 V127.6"/>
<path class="c" style="stroke-width:1.5" d="M119.7 205 V440"/>
<path class="c" style="stroke-width:1.4" d="M119.5 440 V528"/>
</g>
<ellipse cx="447.0" cy="442.9" rx="5.0" ry="5.1" fill="url(#p873)" stroke="#000" stroke-width="1.5"/>
<ellipse cx="447.0" cy="468.8" rx="5.0" ry="5.1" fill="url(#p973)" stroke="#000" stroke-width="1.5"/>
<ellipse cx="447.0" cy="494.9" rx="5.0" ry="5.1" fill="url(#p1073)" stroke="#000" stroke-width="1.5"/>
<ellipse cx="447.0" cy="521.6" rx="5.0" ry="5.1" fill="url(#p1173)" stroke="#000" stroke-width="1.5"/>
<ellipse cx="447.0" cy="548.0" rx="5.0" ry="5.1" fill="#000" stroke="#000" stroke-width="1.5"/>
<rect class="ax" x="96.0" y="9.7" width="572.4" height="581.8"/>
<path class="tk" d="M119.4 9.7 v15.5 M119.4 591.5 v-15.5 M158.6 9.7 v8.0 M158.6 591.5 v-8.0 M197.8 9.7 v15.5 M197.8 591.5 v-15.5 M237.0 9.7 v8.0 M237.0 591.5 v-8.0 M276.3 9.7 v15.5 M276.3 591.5 v-15.5 M315.5 9.7 v8.0 M315.5 591.5 v-8.0 M354.7 9.7 v15.5 M354.7 591.5 v-15.5 M393.9 9.7 v8.0 M393.9 591.5 v-8.0 M433.1 9.7 v15.5 M433.1 591.5 v-15.5 M472.3 9.7 v8.0 M472.3 591.5 v-8.0 M511.5 9.7 v15.5 M511.5 591.5 v-15.5 M550.8 9.7 v8.0 M550.8 591.5 v-8.0 M590.0 9.7 v15.5 M590.0 591.5 v-15.5 M629.2 9.7 v8.0 M629.2 591.5 v-8.0 M96.0 9.7 h16.0 M668.4 9.7 h-16.0 M96.0 106.7 h8.0 M668.4 106.7 h-8.0 M96.0 203.6 h16.0 M668.4 203.6 h-16.0 M96.0 300.6 h8.0 M668.4 300.6 h-8.0 M96.0 397.6 h16.0 M668.4 397.6 h-16.0 M96.0 494.5 h8.0 M668.4 494.5 h-8.0 M96.0 591.5 h16.0 M668.4 591.5 h-16.0"/>
<text class="t" transform="translate(119.4 617.5) scale(1.000 1.100)" text-anchor="middle">0</text>
<text class="t" transform="translate(197.8 617.5) scale(1.000 1.100)" text-anchor="middle">0.1</text>
<text class="t" transform="translate(276.3 617.5) scale(1.000 1.100)" text-anchor="middle">0.2</text>
<text class="t" transform="translate(354.7 617.5) scale(1.000 1.100)" text-anchor="middle">0.3</text>
<text class="t" transform="translate(433.1 617.5) scale(1.000 1.100)" text-anchor="middle">0.4</text>
<text class="t" transform="translate(511.5 617.5) scale(1.000 1.100)" text-anchor="middle">0.5</text>
<text class="t" transform="translate(590.0 617.5) scale(1.000 1.100)" text-anchor="middle">0.6</text>
<text class="t" transform="translate(668.4 617.5) scale(1.000 1.100)" text-anchor="middle">0.7</text>
<text class="t" transform="translate(89.5 18.7) scale(1.000 1.065)" text-anchor="end">0</text>
<text class="t" transform="translate(89.5 212.6) scale(1.000 1.065)" text-anchor="end">-10</text>
<text class="t" transform="translate(89.5 406.6) scale(1.000 1.065)" text-anchor="end">-20</text>
<text class="t" transform="translate(89.5 600.5) scale(1.000 1.065)" text-anchor="end">-30</text>
<text class="b" transform="translate(382.6 648.2) scale(1.000 1.075)" text-anchor="middle">O/M - 2</text>
<text class="b" transform="translate(35.2 373.8) rotate(-90) scale(1.030 1.030)"><tspan font-size="28.7px">log(P</tspan><tspan dy="12.14" font-size="21.5px">O2</tspan><tspan dy="-12.14" font-size="28.7px">/P</tspan><tspan dy="-15.53" font-size="22.5px">0</tspan><tspan dy="15.53" font-size="28.7px">)</tspan></text>
<text class="m" transform="translate(104.5 49.2) scale(1.000 1.080)">(U<tspan dy="8.61" font-size="16.1px">0.95</tspan><tspan dy="-8.61">La</tspan><tspan dy="8.61" font-size="16.1px">0.05</tspan><tspan dy="-8.61">)O</tspan><tspan dy="8.61" font-size="16.1px">2</tspan></text>
<text class="s" transform="translate(427.6 61.3) scale(1.000 1.100)">1473</text>
<text class="s" transform="translate(427.6 78.9) scale(1.000 1.100)">1373</text>
<text class="s" transform="translate(427.6 95.9) scale(1.000 1.100)">1273</text>
<text class="s" transform="translate(430.5 118.3) scale(1.000 1.100)">1173</text>
<text class="s" transform="translate(430.5 142.3) scale(1.000 1.100)">1073</text>
<text class="s" transform="translate(434.8 171.3) scale(1.000 1.100)">973</text>
<text class="s" transform="translate(434.8 206.9) scale(1.000 1.100)">873</text>
<text class="s" transform="translate(434.8 252.3) scale(1.000 1.100)">773</text>
<text class="s" transform="translate(437.4 310.3) scale(1.000 1.100)">673</text>
<text class="s" transform="translate(437.8 390.3) scale(1.000 1.100)">573</text>
<text class="s" transform="translate(385.0 188.3) scale(1.000 1.100)">M<tspan dy="6.00" font-size="12px">4</tspan><tspan dy="-6.00">O</tspan><tspan dy="6.00" font-size="12px">9</tspan><tspan dy="-6.00">-ss + M</tspan><tspan dy="6.00" font-size="12px">3</tspan><tspan dy="-6.00">O</tspan><tspan dy="6.00" font-size="12px">8</tspan><tspan dy="-6.00">-ss</tspan></text>
<text class="s" transform="translate(450.8 37.1) scale(1.000 1.100)">F3 + M<tspan dy="6.00" font-size="12px">3</tspan><tspan dy="-6.00">O</tspan><tspan dy="6.00" font-size="12px">8</tspan><tspan dy="-6.00">-ss</tspan></text>
<text class="s" transform="translate(417.5 281.3) scale(1.000 1.100)">F2 + M<tspan dy="6.00" font-size="12px">3</tspan><tspan dy="-6.00">O</tspan><tspan dy="6.00" font-size="12px">8</tspan><tspan dy="-6.00">-ss</tspan></text>
<text class="s" transform="translate(330.5 356.3) scale(1.000 1.100)">M<tspan dy="6.00" font-size="12px">4</tspan><tspan dy="-6.00">O</tspan><tspan dy="6.00" font-size="12px">9</tspan><tspan dy="-6.00">-ss + F2</tspan></text>
<text class="s" transform="translate(174.5 384.7) scale(1.000 1.100)">F1 + M<tspan dy="6.00" font-size="12px">4</tspan><tspan dy="-6.00">O</tspan><tspan dy="6.00" font-size="12px">9</tspan><tspan dy="-6.00">-ss</tspan></text>
<text class="s" transform="translate(129.5 417.7) scale(1.000 1.100)">F1</text>
<text class="s" transform="translate(658.8 90.5) rotate(-90) scale(1.000 1.060)">M<tspan dy="6.00" font-size="12px">3</tspan><tspan dy="-6.00">O</tspan><tspan dy="6.00" font-size="12px">8</tspan><tspan dy="-6.00">-ss</tspan></text>
<g class="c" style="stroke-width:1.2">
<path d="M553 44.7 L602.4 70.2 M596.9 63.5 L602.4 70.2 L593.7 69.5"/>
<path d="M481.4 290 L505 306.3 M502.4 298.9 L505 306.3 L497.6 305.5"/>
<path d="M373.6 339.9 L356.3 330.4 M366.3 331.2 L356.3 330.4 L359.7 338.3"/>
</g>
<text class="m" transform="translate(479.6 451.4) scale(1.000 1.080)">STA74-873K</text>
<text class="m" transform="translate(479.6 477.3) scale(1.000 1.080)">STA74-973K</text>
<text class="m" transform="translate(479.6 503.4) scale(1.000 1.080)">STA74-1073K</text>
<text class="m" transform="translate(479.6 530.1) scale(1.000 1.080)">STA74-1173K</text>
<text class="m" transform="translate(479.6 556.5) scale(1.000 1.080)">STA74-1273K</text>
</svg></body></html>
